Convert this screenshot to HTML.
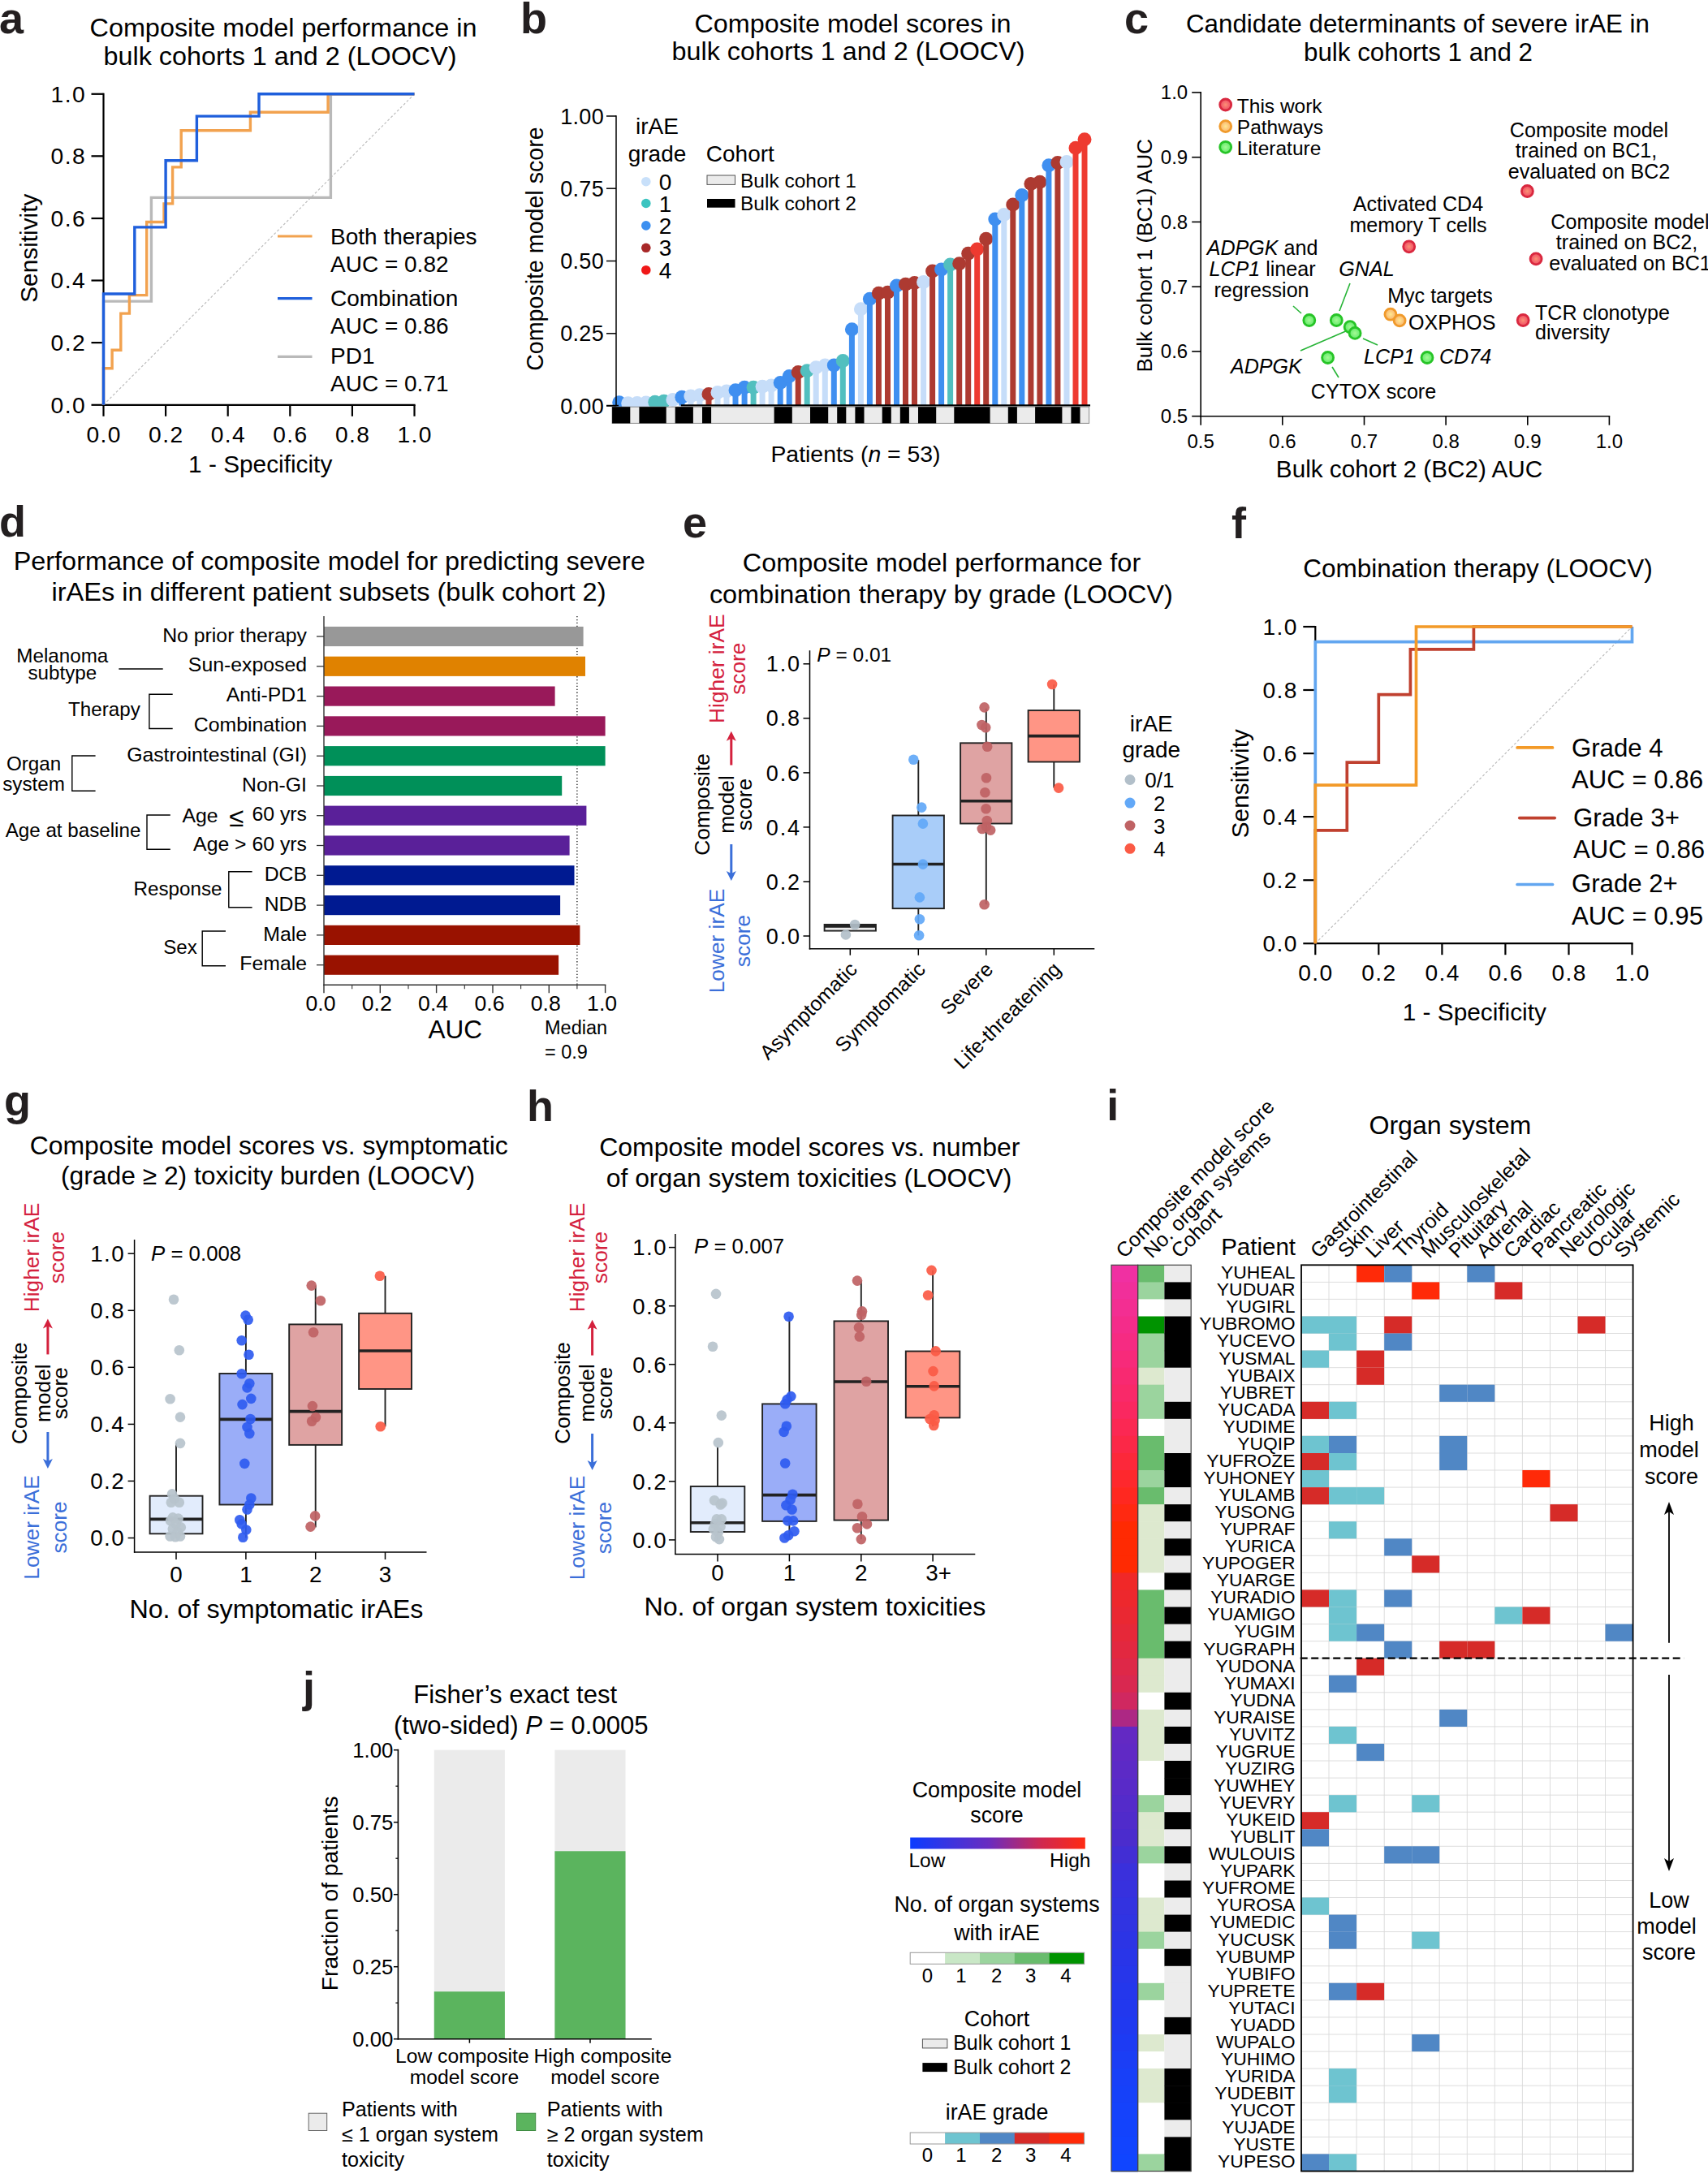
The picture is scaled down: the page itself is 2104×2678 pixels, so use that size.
<!DOCTYPE html>
<html lang="en"><head><meta charset="utf-8"><title>Figure</title>
<style>
html,body{margin:0;padding:0;background:#fff;}
svg{display:block;}
svg text{font-family:"Liberation Sans",sans-serif;}
</style></head><body>
<svg width="2104" height="2678" viewBox="0 0 2104 2678">
<rect x="0" y="0" width="2104" height="2678" fill="#fff"/>
<text x="-1.0" y="41.0" font-size="54" fill="#231f20" font-weight="bold">a</text>
<text x="349.0" y="44.5" font-size="31.5" text-anchor="middle" textLength="477.0" lengthAdjust="spacingAndGlyphs">Composite model performance in</text>
<text x="345.0" y="80.0" font-size="31.5" text-anchor="middle" textLength="435.0" lengthAdjust="spacingAndGlyphs">bulk cohorts 1 and 2 (LOOCV)</text>
<line x1="127.5" y1="498.8" x2="510.5" y2="115.8" stroke="#bdbdbd" stroke-width="1.2" stroke-dasharray="3 2.5"/>
<line x1="127.5" y1="114.7" x2="127.5" y2="499.9" stroke="#000" stroke-width="2.2" />
<line x1="126.4" y1="498.8" x2="511.6" y2="498.8" stroke="#000" stroke-width="2.2" />
<line x1="112.5" y1="498.8" x2="127.5" y2="498.8" stroke="#000" stroke-width="2.2" />
<text x="106.0" y="508.6" font-size="28.2" text-anchor="end" letter-spacing="1.4">0.0</text>
<line x1="127.5" y1="498.8" x2="127.5" y2="512.8" stroke="#000" stroke-width="2.2" />
<text x="128.2" y="544.8" font-size="28.2" text-anchor="middle" letter-spacing="1.4">0.0</text>
<line x1="112.5" y1="422.1" x2="127.5" y2="422.1" stroke="#000" stroke-width="2.2" />
<text x="106.0" y="432.0" font-size="28.2" text-anchor="end" letter-spacing="1.4">0.2</text>
<line x1="204.1" y1="498.8" x2="204.1" y2="512.8" stroke="#000" stroke-width="2.2" />
<text x="204.8" y="544.8" font-size="28.2" text-anchor="middle" letter-spacing="1.4">0.2</text>
<line x1="112.5" y1="345.5" x2="127.5" y2="345.5" stroke="#000" stroke-width="2.2" />
<text x="106.0" y="355.4" font-size="28.2" text-anchor="end" letter-spacing="1.4">0.4</text>
<line x1="280.7" y1="498.8" x2="280.7" y2="512.8" stroke="#000" stroke-width="2.2" />
<text x="281.4" y="544.8" font-size="28.2" text-anchor="middle" letter-spacing="1.4">0.4</text>
<line x1="112.5" y1="269.0" x2="127.5" y2="269.0" stroke="#000" stroke-width="2.2" />
<text x="106.0" y="278.9" font-size="28.2" text-anchor="end" letter-spacing="1.4">0.6</text>
<line x1="357.3" y1="498.8" x2="357.3" y2="512.8" stroke="#000" stroke-width="2.2" />
<text x="358.0" y="544.8" font-size="28.2" text-anchor="middle" letter-spacing="1.4">0.6</text>
<line x1="112.5" y1="192.3" x2="127.5" y2="192.3" stroke="#000" stroke-width="2.2" />
<text x="106.0" y="202.2" font-size="28.2" text-anchor="end" letter-spacing="1.4">0.8</text>
<line x1="433.9" y1="498.8" x2="433.9" y2="512.8" stroke="#000" stroke-width="2.2" />
<text x="434.6" y="544.8" font-size="28.2" text-anchor="middle" letter-spacing="1.4">0.8</text>
<line x1="112.5" y1="115.8" x2="127.5" y2="115.8" stroke="#000" stroke-width="2.2" />
<text x="106.0" y="125.7" font-size="28.2" text-anchor="end" letter-spacing="1.4">1.0</text>
<line x1="510.5" y1="498.8" x2="510.5" y2="512.8" stroke="#000" stroke-width="2.2" />
<text x="511.2" y="544.8" font-size="28.2" text-anchor="middle" letter-spacing="1.4">1.0</text>
<path d="M127.5 498.8 L127.5 371.1 L186.4 371.1 L186.4 243.4 L407.4 243.4 L407.4 115.8 L510.5 115.8" fill="none" stroke="#b9b9b9" stroke-width="3.4" stroke-linejoin="miter"/>
<path d="M127.5 498.8 L127.5 453.7 L138.1 453.7 L138.1 431.2 L148.8 431.2 L148.8 386.1 L159.4 386.1 L159.4 363.6 L180.7 363.6 L180.7 273.5 L202.0 273.5 L202.0 250.9 L212.6 250.9 L212.6 205.9 L223.2 205.9 L223.2 160.8 L308.4 160.8 L308.4 138.3 L404.1 138.3 L404.1 115.8 L510.5 115.8" fill="none" stroke="#f2a24f" stroke-width="3.4" stroke-linejoin="miter"/>
<path d="M127.5 498.8 L127.5 362.0 L165.8 362.0 L165.8 279.9 L204.1 279.9 L204.1 197.8 L242.4 197.8 L242.4 143.1 L319.0 143.1 L319.0 115.8 L510.5 115.8" fill="none" stroke="#1f5fdc" stroke-width="3.4" stroke-linejoin="miter"/>
<text x="320.7" y="582.0" font-size="29.8" text-anchor="middle">1 - Specificity</text>
<text x="46.5" y="305.7" font-size="29.8" text-anchor="middle" transform="rotate(-90 46.5 305.7)">Sensitivity</text>
<line x1="342.0" y1="291.0" x2="384.5" y2="291.0" stroke="#f2a24f" stroke-width="3.2" />
<line x1="342.0" y1="367.6" x2="384.5" y2="367.6" stroke="#1f5fdc" stroke-width="3.2" />
<line x1="342.0" y1="439.3" x2="384.5" y2="439.3" stroke="#b9b9b9" stroke-width="3.2" />
<text x="407.0" y="301.0" font-size="28">Both therapies</text>
<text x="407.0" y="334.5" font-size="28">AUC = 0.82</text>
<text x="407.0" y="376.5" font-size="28">Combination</text>
<text x="407.0" y="411.0" font-size="28">AUC = 0.86</text>
<text x="407.0" y="447.5" font-size="28">PD1</text>
<text x="407.0" y="482.0" font-size="28">AUC = 0.71</text>
<text x="641.0" y="41.0" font-size="54" fill="#231f20" font-weight="bold">b</text>
<text x="1050.4" y="40.0" font-size="31.5" text-anchor="middle" textLength="390.0" lengthAdjust="spacingAndGlyphs">Composite model scores in</text>
<text x="1045.0" y="74.0" font-size="31.5" text-anchor="middle" textLength="435.0" lengthAdjust="spacingAndGlyphs">bulk cohorts 1 and 2 (LOOCV)</text>
<line x1="762.7" y1="499.6" x2="762.7" y2="495.8" stroke="#3f8ff0" stroke-width="7.0" />
<circle cx="762.7" cy="495.8" r="8.5" fill="#3f8ff0" />
<line x1="773.7" y1="499.6" x2="773.7" y2="496.8" stroke="#c6ddf9" stroke-width="7.0" />
<circle cx="773.7" cy="496.8" r="8.5" fill="#c6ddf9" />
<line x1="784.8" y1="499.6" x2="784.8" y2="496.4" stroke="#c6ddf9" stroke-width="7.0" />
<circle cx="784.8" cy="496.4" r="8.5" fill="#c6ddf9" />
<line x1="795.8" y1="499.6" x2="795.8" y2="496.1" stroke="#c6ddf9" stroke-width="7.0" />
<circle cx="795.8" cy="496.1" r="8.5" fill="#c6ddf9" />
<line x1="806.8" y1="499.6" x2="806.8" y2="495.3" stroke="#52bfbf" stroke-width="7.0" />
<circle cx="806.8" cy="495.3" r="8.5" fill="#52bfbf" />
<line x1="817.8" y1="499.6" x2="817.8" y2="494.3" stroke="#52bfbf" stroke-width="7.0" />
<circle cx="817.8" cy="494.3" r="8.5" fill="#52bfbf" />
<line x1="828.9" y1="499.6" x2="828.9" y2="492.5" stroke="#c6ddf9" stroke-width="7.0" />
<circle cx="828.9" cy="492.5" r="8.5" fill="#c6ddf9" />
<line x1="839.9" y1="499.6" x2="839.9" y2="489.3" stroke="#3f8ff0" stroke-width="7.0" />
<circle cx="839.9" cy="489.3" r="8.5" fill="#3f8ff0" />
<line x1="850.9" y1="499.6" x2="850.9" y2="487.9" stroke="#c6ddf9" stroke-width="7.0" />
<circle cx="850.9" cy="487.9" r="8.5" fill="#c6ddf9" />
<line x1="861.9" y1="499.6" x2="861.9" y2="486.8" stroke="#c6ddf9" stroke-width="7.0" />
<circle cx="861.9" cy="486.8" r="8.5" fill="#c6ddf9" />
<line x1="873.0" y1="499.6" x2="873.0" y2="485.5" stroke="#ad3a31" stroke-width="7.0" />
<circle cx="873.0" cy="485.5" r="8.5" fill="#ad3a31" />
<line x1="884.0" y1="499.6" x2="884.0" y2="483.6" stroke="#c6ddf9" stroke-width="7.0" />
<circle cx="884.0" cy="483.6" r="8.5" fill="#c6ddf9" />
<line x1="895.0" y1="499.6" x2="895.0" y2="481.9" stroke="#c6ddf9" stroke-width="7.0" />
<circle cx="895.0" cy="481.9" r="8.5" fill="#c6ddf9" />
<line x1="906.0" y1="499.6" x2="906.0" y2="480.8" stroke="#3f8ff0" stroke-width="7.0" />
<circle cx="906.0" cy="480.8" r="8.5" fill="#3f8ff0" />
<line x1="917.1" y1="499.6" x2="917.1" y2="477.2" stroke="#3f8ff0" stroke-width="7.0" />
<circle cx="917.1" cy="477.2" r="8.5" fill="#3f8ff0" />
<line x1="928.1" y1="499.6" x2="928.1" y2="477.2" stroke="#52bfbf" stroke-width="7.0" />
<circle cx="928.1" cy="477.2" r="8.5" fill="#52bfbf" />
<line x1="939.1" y1="499.6" x2="939.1" y2="476.2" stroke="#c6ddf9" stroke-width="7.0" />
<circle cx="939.1" cy="476.2" r="8.5" fill="#c6ddf9" />
<line x1="950.1" y1="499.6" x2="950.1" y2="475.1" stroke="#c6ddf9" stroke-width="7.0" />
<circle cx="950.1" cy="475.1" r="8.5" fill="#c6ddf9" />
<line x1="961.2" y1="499.6" x2="961.2" y2="471.6" stroke="#3f8ff0" stroke-width="7.0" />
<circle cx="961.2" cy="471.6" r="8.5" fill="#3f8ff0" />
<line x1="972.2" y1="499.6" x2="972.2" y2="463.4" stroke="#3f8ff0" stroke-width="7.0" />
<circle cx="972.2" cy="463.4" r="8.5" fill="#3f8ff0" />
<line x1="983.2" y1="499.6" x2="983.2" y2="458.4" stroke="#ad3a31" stroke-width="7.0" />
<circle cx="983.2" cy="458.4" r="8.5" fill="#ad3a31" />
<line x1="994.2" y1="499.6" x2="994.2" y2="456.7" stroke="#52bfbf" stroke-width="7.0" />
<circle cx="994.2" cy="456.7" r="8.5" fill="#52bfbf" />
<line x1="1005.2" y1="499.6" x2="1005.2" y2="452.8" stroke="#c6ddf9" stroke-width="7.0" />
<circle cx="1005.2" cy="452.8" r="8.5" fill="#c6ddf9" />
<line x1="1016.3" y1="499.6" x2="1016.3" y2="449.9" stroke="#c6ddf9" stroke-width="7.0" />
<circle cx="1016.3" cy="449.9" r="8.5" fill="#c6ddf9" />
<line x1="1027.3" y1="499.6" x2="1027.3" y2="449.9" stroke="#3f8ff0" stroke-width="7.0" />
<circle cx="1027.3" cy="449.9" r="8.5" fill="#3f8ff0" />
<line x1="1038.3" y1="499.6" x2="1038.3" y2="444.6" stroke="#52bfbf" stroke-width="7.0" />
<circle cx="1038.3" cy="444.6" r="8.5" fill="#52bfbf" />
<line x1="1049.4" y1="499.6" x2="1049.4" y2="405.8" stroke="#3f8ff0" stroke-width="7.0" />
<circle cx="1049.4" cy="405.8" r="8.5" fill="#3f8ff0" />
<line x1="1060.4" y1="499.6" x2="1060.4" y2="380.7" stroke="#c6ddf9" stroke-width="7.0" />
<circle cx="1060.4" cy="380.7" r="8.5" fill="#c6ddf9" />
<line x1="1071.4" y1="499.6" x2="1071.4" y2="368.3" stroke="#3f8ff0" stroke-width="7.0" />
<circle cx="1071.4" cy="368.3" r="8.5" fill="#3f8ff0" />
<line x1="1082.4" y1="499.6" x2="1082.4" y2="361.2" stroke="#ad3a31" stroke-width="7.0" />
<circle cx="1082.4" cy="361.2" r="8.5" fill="#ad3a31" />
<line x1="1093.5" y1="499.6" x2="1093.5" y2="360.3" stroke="#ad3a31" stroke-width="7.0" />
<circle cx="1093.5" cy="360.3" r="8.5" fill="#ad3a31" />
<line x1="1104.5" y1="499.6" x2="1104.5" y2="352.1" stroke="#3f8ff0" stroke-width="7.0" />
<circle cx="1104.5" cy="352.1" r="8.5" fill="#3f8ff0" />
<line x1="1115.5" y1="499.6" x2="1115.5" y2="350.2" stroke="#ad3a31" stroke-width="7.0" />
<circle cx="1115.5" cy="350.2" r="8.5" fill="#ad3a31" />
<line x1="1126.5" y1="499.6" x2="1126.5" y2="348.5" stroke="#ad3a31" stroke-width="7.0" />
<circle cx="1126.5" cy="348.5" r="8.5" fill="#ad3a31" />
<line x1="1137.6" y1="499.6" x2="1137.6" y2="347.5" stroke="#c6ddf9" stroke-width="7.0" />
<circle cx="1137.6" cy="347.5" r="8.5" fill="#c6ddf9" />
<line x1="1148.6" y1="499.6" x2="1148.6" y2="333.9" stroke="#ad3a31" stroke-width="7.0" />
<circle cx="1148.6" cy="333.9" r="8.5" fill="#ad3a31" />
<line x1="1159.6" y1="499.6" x2="1159.6" y2="332.1" stroke="#3f8ff0" stroke-width="7.0" />
<circle cx="1159.6" cy="332.1" r="8.5" fill="#3f8ff0" />
<line x1="1170.6" y1="499.6" x2="1170.6" y2="326.1" stroke="#52bfbf" stroke-width="7.0" />
<circle cx="1170.6" cy="326.1" r="8.5" fill="#52bfbf" />
<line x1="1181.7" y1="499.6" x2="1181.7" y2="324.7" stroke="#ad3a31" stroke-width="7.0" />
<circle cx="1181.7" cy="324.7" r="8.5" fill="#ad3a31" />
<line x1="1192.7" y1="499.6" x2="1192.7" y2="312.3" stroke="#ad3a31" stroke-width="7.0" />
<circle cx="1192.7" cy="312.3" r="8.5" fill="#ad3a31" />
<line x1="1203.7" y1="499.6" x2="1203.7" y2="306.9" stroke="#ee3a30" stroke-width="7.0" />
<circle cx="1203.7" cy="306.9" r="8.5" fill="#ee3a30" />
<line x1="1214.7" y1="499.6" x2="1214.7" y2="294.2" stroke="#ad3a31" stroke-width="7.0" />
<circle cx="1214.7" cy="294.2" r="8.5" fill="#ad3a31" />
<line x1="1225.8" y1="499.6" x2="1225.8" y2="270.0" stroke="#3f8ff0" stroke-width="7.0" />
<circle cx="1225.8" cy="270.0" r="8.5" fill="#3f8ff0" />
<line x1="1236.8" y1="499.6" x2="1236.8" y2="264.4" stroke="#c6ddf9" stroke-width="7.0" />
<circle cx="1236.8" cy="264.4" r="8.5" fill="#c6ddf9" />
<line x1="1247.8" y1="499.6" x2="1247.8" y2="252.1" stroke="#ad3a31" stroke-width="7.0" />
<circle cx="1247.8" cy="252.1" r="8.5" fill="#ad3a31" />
<line x1="1258.8" y1="499.6" x2="1258.8" y2="240.6" stroke="#3f8ff0" stroke-width="7.0" />
<circle cx="1258.8" cy="240.6" r="8.5" fill="#3f8ff0" />
<line x1="1269.9" y1="499.6" x2="1269.9" y2="226.5" stroke="#ad3a31" stroke-width="7.0" />
<circle cx="1269.9" cy="226.5" r="8.5" fill="#ad3a31" />
<line x1="1280.9" y1="499.6" x2="1280.9" y2="224.3" stroke="#ad3a31" stroke-width="7.0" />
<circle cx="1280.9" cy="224.3" r="8.5" fill="#ad3a31" />
<line x1="1291.9" y1="499.6" x2="1291.9" y2="203.7" stroke="#3f8ff0" stroke-width="7.0" />
<circle cx="1291.9" cy="203.7" r="8.5" fill="#3f8ff0" />
<line x1="1302.9" y1="499.6" x2="1302.9" y2="200.5" stroke="#ad3a31" stroke-width="7.0" />
<circle cx="1302.9" cy="200.5" r="8.5" fill="#ad3a31" />
<line x1="1314.0" y1="499.6" x2="1314.0" y2="199.6" stroke="#c6ddf9" stroke-width="7.0" />
<circle cx="1314.0" cy="199.6" r="8.5" fill="#c6ddf9" />
<line x1="1325.0" y1="499.6" x2="1325.0" y2="182.2" stroke="#ee3a30" stroke-width="7.0" />
<circle cx="1325.0" cy="182.2" r="8.5" fill="#ee3a30" />
<line x1="1336.0" y1="499.6" x2="1336.0" y2="171.8" stroke="#ee3a30" stroke-width="7.0" />
<circle cx="1336.0" cy="171.8" r="8.5" fill="#ee3a30" />
<line x1="759.0" y1="142.3" x2="759.0" y2="500.6" stroke="#000" stroke-width="1.5" />
<line x1="747.0" y1="500.0" x2="759.0" y2="500.0" stroke="#000" stroke-width="1.5" />
<text x="744.0" y="509.7" font-size="27.0" text-anchor="end" letter-spacing="0.3">0.00</text>
<line x1="747.0" y1="410.8" x2="759.0" y2="410.8" stroke="#000" stroke-width="1.5" />
<text x="744.0" y="420.4" font-size="27.0" text-anchor="end" letter-spacing="0.3">0.25</text>
<line x1="747.0" y1="321.5" x2="759.0" y2="321.5" stroke="#000" stroke-width="1.5" />
<text x="744.0" y="331.2" font-size="27.0" text-anchor="end" letter-spacing="0.3">0.50</text>
<line x1="747.0" y1="232.2" x2="759.0" y2="232.2" stroke="#000" stroke-width="1.5" />
<text x="744.0" y="241.9" font-size="27.0" text-anchor="end" letter-spacing="0.3">0.75</text>
<line x1="747.0" y1="143.0" x2="759.0" y2="143.0" stroke="#000" stroke-width="1.5" />
<text x="744.0" y="152.7" font-size="27.0" text-anchor="end" letter-spacing="0.3">1.00</text>
<line x1="838.8" y1="499.4" x2="1343.0" y2="499.4" stroke="#000" stroke-width="2.4" />
<line x1="747.0" y1="499.6" x2="762.0" y2="499.6" stroke="#000" stroke-width="1.7" />
<rect x="754.1" y="501.2" width="587.5" height="20.2" fill="#ebebeb" stroke="#8a8a8a" stroke-width="1" />
<rect x="754.1" y="501.2" width="22.2" height="20.2" fill="#000" />
<rect x="787.4" y="501.2" width="33.3" height="20.2" fill="#000" />
<rect x="831.7" y="501.2" width="22.2" height="20.2" fill="#000" />
<rect x="865.0" y="501.2" width="11.1" height="20.2" fill="#000" />
<rect x="953.6" y="501.2" width="22.2" height="20.2" fill="#000" />
<rect x="998.0" y="501.2" width="22.2" height="20.2" fill="#000" />
<rect x="1031.2" y="501.2" width="11.1" height="20.2" fill="#000" />
<rect x="1053.4" y="501.2" width="11.1" height="20.2" fill="#000" />
<rect x="1086.7" y="501.2" width="11.1" height="20.2" fill="#000" />
<rect x="1108.8" y="501.2" width="11.1" height="20.2" fill="#000" />
<rect x="1131.0" y="501.2" width="22.2" height="20.2" fill="#000" />
<rect x="1175.3" y="501.2" width="44.3" height="20.2" fill="#000" />
<rect x="1241.8" y="501.2" width="11.1" height="20.2" fill="#000" />
<rect x="1275.1" y="501.2" width="33.3" height="20.2" fill="#000" />
<rect x="1319.4" y="501.2" width="11.1" height="20.2" fill="#000" />
<text x="1054.0" y="568.5" font-size="28.4" text-anchor="middle">Patients (<tspan font-style="italic">n</tspan> = 53)</text>
<text x="669.0" y="306.6" font-size="28.6" text-anchor="middle" transform="rotate(-90 669.0 306.6)">Composite model score</text>
<text x="809.5" y="165.0" font-size="28" text-anchor="middle">irAE</text>
<text x="809.5" y="198.6" font-size="28" text-anchor="middle">grade</text>
<circle cx="795.8" cy="223.7" r="5.8" fill="#c8e0fa" />
<text x="811.8" y="233.7" font-size="28">0</text>
<circle cx="795.8" cy="250.5" r="5.8" fill="#3cc4c0" />
<text x="811.8" y="260.5" font-size="28">1</text>
<circle cx="795.8" cy="277.9" r="5.8" fill="#3c90f0" />
<text x="811.8" y="287.9" font-size="28">2</text>
<circle cx="795.8" cy="305.3" r="5.8" fill="#a82828" />
<text x="811.8" y="315.3" font-size="28">3</text>
<circle cx="795.8" cy="332.7" r="5.8" fill="#f01818" />
<text x="811.8" y="342.7" font-size="28">4</text>
<text x="869.8" y="198.6" font-size="28">Cohort</text>
<rect x="871.0" y="216.0" width="34.5" height="11.4" fill="#ebebeb" stroke="#555" stroke-width="1" />
<text x="912.0" y="230.6" font-size="24.5">Bulk cohort 1</text>
<rect x="871.0" y="245.0" width="34.5" height="10.7" fill="#000" />
<text x="912.0" y="258.6" font-size="24.5">Bulk cohort 2</text>
<text x="1385.0" y="41.0" font-size="54" fill="#231f20" font-weight="bold">c</text>
<text x="1746.5" y="39.5" font-size="31.5" text-anchor="middle" textLength="571.0" lengthAdjust="spacingAndGlyphs">Candidate determinants of severe irAE in</text>
<text x="1747.0" y="75.0" font-size="31.5" text-anchor="middle" textLength="282.0" lengthAdjust="spacingAndGlyphs">bulk cohorts 1 and 2</text>
<line x1="1479.2" y1="113.1" x2="1479.2" y2="513.5" stroke="#000" stroke-width="1.6" />
<line x1="1478.4" y1="512.7" x2="1983.2" y2="512.7" stroke="#000" stroke-width="1.6" />
<line x1="1468.2" y1="512.7" x2="1479.2" y2="512.7" stroke="#000" stroke-width="1.6" />
<text x="1463.2" y="521.2" font-size="24" text-anchor="end">0.5</text>
<line x1="1479.2" y1="512.7" x2="1479.2" y2="523.7" stroke="#000" stroke-width="1.6" />
<text x="1479.2" y="551.7" font-size="24" text-anchor="middle">0.5</text>
<line x1="1468.2" y1="432.9" x2="1479.2" y2="432.9" stroke="#000" stroke-width="1.6" />
<text x="1463.2" y="441.4" font-size="24" text-anchor="end">0.6</text>
<line x1="1579.8" y1="512.7" x2="1579.8" y2="523.7" stroke="#000" stroke-width="1.6" />
<text x="1579.8" y="551.7" font-size="24" text-anchor="middle">0.6</text>
<line x1="1468.2" y1="353.2" x2="1479.2" y2="353.2" stroke="#000" stroke-width="1.6" />
<text x="1463.2" y="361.7" font-size="24" text-anchor="end">0.7</text>
<line x1="1680.5" y1="512.7" x2="1680.5" y2="523.7" stroke="#000" stroke-width="1.6" />
<text x="1680.5" y="551.7" font-size="24" text-anchor="middle">0.7</text>
<line x1="1468.2" y1="273.4" x2="1479.2" y2="273.4" stroke="#000" stroke-width="1.6" />
<text x="1463.2" y="281.9" font-size="24" text-anchor="end">0.8</text>
<line x1="1781.1" y1="512.7" x2="1781.1" y2="523.7" stroke="#000" stroke-width="1.6" />
<text x="1781.1" y="551.7" font-size="24" text-anchor="middle">0.8</text>
<line x1="1468.2" y1="193.7" x2="1479.2" y2="193.7" stroke="#000" stroke-width="1.6" />
<text x="1463.2" y="202.2" font-size="24" text-anchor="end">0.9</text>
<line x1="1881.8" y1="512.7" x2="1881.8" y2="523.7" stroke="#000" stroke-width="1.6" />
<text x="1881.8" y="551.7" font-size="24" text-anchor="middle">0.9</text>
<line x1="1468.2" y1="113.9" x2="1479.2" y2="113.9" stroke="#000" stroke-width="1.6" />
<text x="1463.2" y="122.4" font-size="24" text-anchor="end">1.0</text>
<line x1="1982.4" y1="512.7" x2="1982.4" y2="523.7" stroke="#000" stroke-width="1.6" />
<text x="1982.4" y="551.7" font-size="24" text-anchor="middle">1.0</text>
<text x="1736.0" y="588.0" font-size="29.7" text-anchor="middle">Bulk cohort 2 (BC2) AUC</text>
<text x="1419.0" y="314.8" font-size="26" text-anchor="middle" transform="rotate(-90 1419.0 314.8)">Bulk cohort 1 (BC1) AUC</text>
<defs><radialGradient id="gr"><stop offset="0" stop-color="#fb9274"/><stop offset="0.6" stop-color="#f4656c"/><stop offset="1" stop-color="#ef5763"/></radialGradient><radialGradient id="go"><stop offset="0" stop-color="#ffe98f"/><stop offset="0.6" stop-color="#fcc67c"/><stop offset="1" stop-color="#f9b86c"/></radialGradient><radialGradient id="gg"><stop offset="0" stop-color="#a4fa94"/><stop offset="0.6" stop-color="#7af07a"/><stop offset="1" stop-color="#62e868"/></radialGradient></defs>
<line x1="1593.0" y1="377.0" x2="1603.0" y2="386.0" stroke="#27b437" stroke-width="1.6" />
<line x1="1663.0" y1="349.0" x2="1650.0" y2="383.0" stroke="#27b437" stroke-width="1.6" />
<line x1="1602.0" y1="432.0" x2="1660.0" y2="407.0" stroke="#27b437" stroke-width="1.6" />
<line x1="1679.0" y1="417.0" x2="1697.0" y2="425.0" stroke="#27b437" stroke-width="1.6" />
<line x1="1641.0" y1="452.0" x2="1649.0" y2="465.0" stroke="#27b437" stroke-width="1.6" />
<circle cx="1881.4" cy="235.5" r="7.0" fill="url(#gr)" stroke="#d9283f" stroke-width="2.8" />
<circle cx="1892.1" cy="318.9" r="7.0" fill="url(#gr)" stroke="#d9283f" stroke-width="2.8" />
<circle cx="1735.7" cy="303.8" r="7.0" fill="url(#gr)" stroke="#d9283f" stroke-width="2.8" />
<circle cx="1876.2" cy="394.5" r="7.0" fill="url(#gr)" stroke="#d9283f" stroke-width="2.8" />
<circle cx="1712.9" cy="387.2" r="7.0" fill="url(#go)" stroke="#f09a2b" stroke-width="2.8" />
<circle cx="1724.1" cy="394.9" r="7.0" fill="url(#go)" stroke="#f09a2b" stroke-width="2.8" />
<circle cx="1612.8" cy="394.5" r="7.0" fill="url(#gg)" stroke="#27c427" stroke-width="2.8" />
<circle cx="1646.3" cy="394.5" r="7.0" fill="url(#gg)" stroke="#27c427" stroke-width="2.8" />
<circle cx="1663.1" cy="402.7" r="7.0" fill="url(#gg)" stroke="#27c427" stroke-width="2.8" />
<circle cx="1669.1" cy="410.4" r="7.0" fill="url(#gg)" stroke="#27c427" stroke-width="2.8" />
<circle cx="1635.6" cy="440.5" r="7.0" fill="url(#gg)" stroke="#27c427" stroke-width="2.8" />
<circle cx="1758.0" cy="440.5" r="7.0" fill="url(#gg)" stroke="#27c427" stroke-width="2.8" />
<circle cx="1509.7" cy="129.0" r="7.0" fill="url(#gr)" stroke="#d9283f" stroke-width="2.8" />
<text x="1523.8" y="138.5" font-size="24.5">This work</text>
<circle cx="1509.7" cy="155.6" r="7.0" fill="url(#go)" stroke="#f09a2b" stroke-width="2.8" />
<text x="1523.8" y="165.1" font-size="24.5">Pathways</text>
<circle cx="1509.7" cy="181.3" r="7.0" fill="url(#gg)" stroke="#27c427" stroke-width="2.8" />
<text x="1523.8" y="190.8" font-size="24.5">Literature</text>
<text x="1957.5" y="168.5" font-size="25.1" text-anchor="middle">Composite model</text>
<text x="1954.0" y="194.0" font-size="25.1" text-anchor="middle">trained on BC1,</text>
<text x="1957.5" y="219.5" font-size="25.1" text-anchor="middle">evaluated on BC2</text>
<text x="2008.0" y="281.5" font-size="25.1" text-anchor="middle">Composite model</text>
<text x="2004.0" y="307.0" font-size="25.1" text-anchor="middle">trained on BC2,</text>
<text x="2008.0" y="332.5" font-size="25.1" text-anchor="middle">evaluated on BC1</text>
<text x="1747.0" y="260.0" font-size="25.1" text-anchor="middle">Activated CD4</text>
<text x="1747.0" y="286.0" font-size="25.1" text-anchor="middle">memory T cells</text>
<text x="1555.0" y="314.0" font-size="25.1" text-anchor="middle"><tspan font-style="italic">ADPGK</tspan> and</text>
<text x="1555.0" y="340.0" font-size="25.1" text-anchor="middle"><tspan font-style="italic">LCP1</tspan> linear</text>
<text x="1554.0" y="366.0" font-size="25.1" text-anchor="middle">regression</text>
<text x="1683.5" y="340.0" font-size="25.1" text-anchor="middle" font-style="italic">GNAL</text>
<text x="1774.0" y="373.0" font-size="25.1" text-anchor="middle">Myc targets</text>
<text x="1735.0" y="406.0" font-size="25.1">OXPHOS</text>
<text x="1891.0" y="394.0" font-size="25.1">TCR clonotype</text>
<text x="1891.0" y="418.0" font-size="25.1">diversity</text>
<text x="1516.0" y="460.0" font-size="25.1" font-style="italic">ADPGK</text>
<text x="1680.0" y="448.0" font-size="25.1" font-style="italic">LCP1</text>
<text x="1773.0" y="448.0" font-size="25.1" font-style="italic">CD74</text>
<text x="1692.0" y="491.0" font-size="25.1" text-anchor="middle">CYTOX score</text>
<text x="-1.0" y="661.0" font-size="54" fill="#231f20" font-weight="bold">d</text>
<text x="405.7" y="701.6" font-size="31.5" text-anchor="middle" textLength="778.0" lengthAdjust="spacingAndGlyphs">Performance of composite model for predicting severe</text>
<text x="405.0" y="740.0" font-size="31.5" text-anchor="middle" textLength="683.0" lengthAdjust="spacingAndGlyphs">irAEs in different patient subsets (bulk cohort 2)</text>
<line x1="710.9" y1="759.0" x2="710.9" y2="1213.2" stroke="#111" stroke-width="1.3" stroke-dasharray="1.3 2.6"/>
<rect x="399.0" y="771.9" width="319.6" height="24.2" fill="#989898" />
<line x1="390.0" y1="784.0" x2="399.0" y2="784.0" stroke="#333" stroke-width="1.3" />
<text x="378.0" y="790.6" font-size="24.8" text-anchor="end">No prior therapy</text>
<rect x="399.0" y="808.7" width="322.0" height="24.2" fill="#e08200" />
<line x1="390.0" y1="820.8" x2="399.0" y2="820.8" stroke="#333" stroke-width="1.3" />
<text x="378.0" y="827.4" font-size="24.8" text-anchor="end">Sun-exposed</text>
<rect x="399.0" y="845.5" width="284.6" height="24.2" fill="#99195a" />
<line x1="390.0" y1="857.6" x2="399.0" y2="857.6" stroke="#333" stroke-width="1.3" />
<text x="378.0" y="864.2" font-size="24.8" text-anchor="end">Anti-PD1</text>
<rect x="399.0" y="882.3" width="346.6" height="24.2" fill="#99195a" />
<line x1="390.0" y1="894.4" x2="399.0" y2="894.4" stroke="#333" stroke-width="1.3" />
<text x="378.0" y="901.0" font-size="24.8" text-anchor="end">Combination</text>
<rect x="399.0" y="919.1" width="346.6" height="24.2" fill="#009059" />
<line x1="390.0" y1="931.2" x2="399.0" y2="931.2" stroke="#333" stroke-width="1.3" />
<text x="378.0" y="937.8" font-size="24.8" text-anchor="end">Gastrointestinal (GI)</text>
<rect x="399.0" y="955.9" width="293.2" height="24.2" fill="#009059" />
<line x1="390.0" y1="968.0" x2="399.0" y2="968.0" stroke="#333" stroke-width="1.3" />
<text x="378.0" y="974.6" font-size="24.8" text-anchor="end">Non-GI</text>
<rect x="399.0" y="992.6" width="323.4" height="24.2" fill="#5a2099" />
<line x1="390.0" y1="1004.7" x2="399.0" y2="1004.7" stroke="#333" stroke-width="1.3" />
<text x="268.5" y="1012.5" font-size="24.8" text-anchor="end">Age</text>
<text x="291.3" y="1018.4" font-size="33" text-anchor="middle">≤</text>
<text x="378.0" y="1010.9" font-size="24.8" text-anchor="end">60 yrs</text>
<rect x="399.0" y="1029.4" width="302.6" height="24.2" fill="#5a2099" />
<line x1="390.0" y1="1041.5" x2="399.0" y2="1041.5" stroke="#333" stroke-width="1.3" />
<text x="378.0" y="1048.1" font-size="24.8" text-anchor="end">Age &gt; 60 yrs</text>
<rect x="399.0" y="1066.2" width="308.5" height="24.2" fill="#001a91" />
<line x1="390.0" y1="1078.3" x2="399.0" y2="1078.3" stroke="#333" stroke-width="1.3" />
<text x="378.0" y="1084.9" font-size="24.8" text-anchor="end">DCB</text>
<rect x="399.0" y="1103.0" width="291.1" height="24.2" fill="#001a91" />
<line x1="390.0" y1="1115.1" x2="399.0" y2="1115.1" stroke="#333" stroke-width="1.3" />
<text x="378.0" y="1121.7" font-size="24.8" text-anchor="end">NDB</text>
<rect x="399.0" y="1139.8" width="315.4" height="24.2" fill="#991200" />
<line x1="390.0" y1="1151.9" x2="399.0" y2="1151.9" stroke="#333" stroke-width="1.3" />
<text x="378.0" y="1158.5" font-size="24.8" text-anchor="end">Male</text>
<rect x="399.0" y="1176.6" width="289.1" height="24.2" fill="#991200" />
<line x1="390.0" y1="1188.7" x2="399.0" y2="1188.7" stroke="#333" stroke-width="1.3" />
<text x="378.0" y="1195.3" font-size="24.8" text-anchor="end">Female</text>
<line x1="399.0" y1="759.0" x2="399.0" y2="1213.9" stroke="#333" stroke-width="1.4" />
<line x1="398.3" y1="1213.2" x2="746.3" y2="1213.2" stroke="#333" stroke-width="1.4" />
<line x1="399.0" y1="1213.2" x2="399.0" y2="1223.2" stroke="#333" stroke-width="1.4" />
<text x="395.0" y="1245.4" font-size="26.6" text-anchor="middle">0.0</text>
<line x1="433.7" y1="1213.2" x2="433.7" y2="1218.2" stroke="#333" stroke-width="1.1" />
<line x1="468.3" y1="1213.2" x2="468.3" y2="1223.2" stroke="#333" stroke-width="1.4" />
<text x="464.3" y="1245.4" font-size="26.6" text-anchor="middle">0.2</text>
<line x1="503.0" y1="1213.2" x2="503.0" y2="1218.2" stroke="#333" stroke-width="1.1" />
<line x1="537.6" y1="1213.2" x2="537.6" y2="1223.2" stroke="#333" stroke-width="1.4" />
<text x="533.6" y="1245.4" font-size="26.6" text-anchor="middle">0.4</text>
<line x1="572.3" y1="1213.2" x2="572.3" y2="1218.2" stroke="#333" stroke-width="1.1" />
<line x1="607.0" y1="1213.2" x2="607.0" y2="1223.2" stroke="#333" stroke-width="1.4" />
<text x="603.0" y="1245.4" font-size="26.6" text-anchor="middle">0.6</text>
<line x1="641.6" y1="1213.2" x2="641.6" y2="1218.2" stroke="#333" stroke-width="1.1" />
<line x1="676.3" y1="1213.2" x2="676.3" y2="1223.2" stroke="#333" stroke-width="1.4" />
<text x="672.3" y="1245.4" font-size="26.6" text-anchor="middle">0.8</text>
<line x1="710.9" y1="1213.2" x2="710.9" y2="1218.2" stroke="#333" stroke-width="1.1" />
<line x1="745.6" y1="1213.2" x2="745.6" y2="1223.2" stroke="#333" stroke-width="1.4" />
<text x="741.6" y="1245.4" font-size="26.6" text-anchor="middle">1.0</text>
<text x="560.7" y="1278.7" font-size="31.5" text-anchor="middle">AUC</text>
<text x="671.0" y="1274.0" font-size="23.5">Median</text>
<text x="671.0" y="1304.0" font-size="23.5">= 0.9</text>
<text x="76.8" y="815.9" font-size="24.2" text-anchor="middle">Melanoma</text>
<text x="76.8" y="837.0" font-size="24.2" text-anchor="middle">subtype</text>
<line x1="146.4" y1="824.0" x2="200.7" y2="824.0" stroke="#000" stroke-width="1.4" />
<text x="128.4" y="881.6" font-size="24.2" text-anchor="middle">Therapy</text>
<path d="M212.7 855.2 L183.9 855.2 L183.9 897.5 L212.7 897.5" fill="none" stroke="#000" stroke-width="1.4" />
<text x="41.5" y="948.9" font-size="24.2" text-anchor="middle">Organ</text>
<text x="41.5" y="974.3" font-size="24.2" text-anchor="middle">system</text>
<path d="M117.6 931.0 L88.8 931.0 L88.8 974.3 L117.6 974.3" fill="none" stroke="#000" stroke-width="1.4" />
<text x="90.0" y="1030.5" font-size="24.2" text-anchor="middle">Age at baseline</text>
<path d="M209.8 1004.0 L181.0 1004.0 L181.0 1046.3 L209.8 1046.3" fill="none" stroke="#000" stroke-width="1.4" />
<text x="219.0" y="1102.5" font-size="24.2" text-anchor="middle">Response</text>
<path d="M310.6 1073.7 L281.8 1073.7 L281.8 1117.8 L310.6 1117.8" fill="none" stroke="#000" stroke-width="1.4" />
<text x="222.0" y="1175.4" font-size="24.2" text-anchor="middle">Sex</text>
<path d="M278.0 1147.0 L249.2 1147.0 L249.2 1189.8 L278.0 1189.8" fill="none" stroke="#000" stroke-width="1.4" />
<text x="841.0" y="662.0" font-size="54" fill="#231f20" font-weight="bold">e</text>
<text x="1160.0" y="703.7" font-size="31.5" text-anchor="middle" textLength="490.4" lengthAdjust="spacingAndGlyphs">Composite model performance for</text>
<text x="1159.4" y="742.7" font-size="31.5" text-anchor="middle" textLength="571.0" lengthAdjust="spacingAndGlyphs">combination therapy by grade (LOOCV)</text>
<line x1="997.5" y1="801.2" x2="997.5" y2="1169.4" stroke="#000" stroke-width="1.5" />
<line x1="996.8" y1="1168.7" x2="1348.3" y2="1168.7" stroke="#000" stroke-width="1.5" />
<line x1="989.5" y1="1153.0" x2="997.5" y2="1153.0" stroke="#000" stroke-width="1.5" />
<text x="987.0" y="1162.6" font-size="27" text-anchor="end" letter-spacing="1.9">0.0</text>
<line x1="989.5" y1="1086.0" x2="997.5" y2="1086.0" stroke="#000" stroke-width="1.5" />
<text x="987.0" y="1095.6" font-size="27" text-anchor="end" letter-spacing="1.9">0.2</text>
<line x1="989.5" y1="1018.9" x2="997.5" y2="1018.9" stroke="#000" stroke-width="1.5" />
<text x="987.0" y="1028.5" font-size="27" text-anchor="end" letter-spacing="1.9">0.4</text>
<line x1="989.5" y1="951.9" x2="997.5" y2="951.9" stroke="#000" stroke-width="1.5" />
<text x="987.0" y="961.5" font-size="27" text-anchor="end" letter-spacing="1.9">0.6</text>
<line x1="989.5" y1="884.8" x2="997.5" y2="884.8" stroke="#000" stroke-width="1.5" />
<text x="987.0" y="894.4" font-size="27" text-anchor="end" letter-spacing="1.9">0.8</text>
<line x1="989.5" y1="817.8" x2="997.5" y2="817.8" stroke="#000" stroke-width="1.5" />
<text x="987.0" y="827.4" font-size="27" text-anchor="end" letter-spacing="1.9">1.0</text>
<line x1="1047.3" y1="1138.9" x2="1047.3" y2="1138.9" stroke="#222" stroke-width="1.9" />
<line x1="1047.3" y1="1146.6" x2="1047.3" y2="1146.6" stroke="#222" stroke-width="1.9" />
<rect x="1015.6" y="1138.9" width="63.3" height="7.7" fill="#ececec" stroke="#222" stroke-width="1.9" />
<line x1="1015.6" y1="1140.9" x2="1079.0" y2="1140.9" stroke="#222" stroke-width="3.6" />
<circle cx="1041.9" cy="1151.4" r="6.3" fill="#b2bfc9" fill-opacity="0.92"/>
<circle cx="1053.1" cy="1139.0" r="6.3" fill="#b2bfc9" fill-opacity="0.92"/>
<line x1="1131.3" y1="936.1" x2="1131.3" y2="1004.5" stroke="#222" stroke-width="1.9" />
<line x1="1131.3" y1="1119.1" x2="1131.3" y2="1152.3" stroke="#222" stroke-width="1.9" />
<rect x="1099.6" y="1004.5" width="63.3" height="114.6" fill="#a9cdf9" stroke="#222" stroke-width="1.9" />
<line x1="1099.6" y1="1064.5" x2="1163.0" y2="1064.5" stroke="#222" stroke-width="3.6" />
<circle cx="1125.3" cy="935.8" r="6.3" fill="#62a8f7" fill-opacity="0.92"/>
<circle cx="1135.3" cy="994.6" r="6.3" fill="#62a8f7" fill-opacity="0.92"/>
<circle cx="1136.9" cy="1014.6" r="6.3" fill="#62a8f7" fill-opacity="0.92"/>
<circle cx="1136.9" cy="1064.6" r="6.3" fill="#62a8f7" fill-opacity="0.92"/>
<circle cx="1132.9" cy="1105.4" r="6.3" fill="#62a8f7" fill-opacity="0.92"/>
<circle cx="1132.9" cy="1132.2" r="6.3" fill="#62a8f7" fill-opacity="0.92"/>
<circle cx="1132.1" cy="1152.2" r="6.3" fill="#62a8f7" fill-opacity="0.92"/>
<line x1="1214.8" y1="872.8" x2="1214.8" y2="915.3" stroke="#222" stroke-width="1.9" />
<line x1="1214.8" y1="1014.6" x2="1214.8" y2="1114.1" stroke="#222" stroke-width="1.9" />
<rect x="1183.1" y="915.3" width="63.3" height="99.2" fill="#dfa3a3" stroke="#222" stroke-width="1.9" />
<line x1="1183.1" y1="986.7" x2="1246.5" y2="986.7" stroke="#222" stroke-width="3.6" />
<circle cx="1212.6" cy="871.4" r="6.3" fill="#bf6264" fill-opacity="0.92"/>
<circle cx="1209.4" cy="893.0" r="6.3" fill="#bf6264" fill-opacity="0.92"/>
<circle cx="1214.2" cy="896.2" r="6.3" fill="#bf6264" fill-opacity="0.92"/>
<circle cx="1216.2" cy="919.8" r="6.3" fill="#bf6264" fill-opacity="0.92"/>
<circle cx="1215.0" cy="958.2" r="6.3" fill="#bf6264" fill-opacity="0.92"/>
<circle cx="1213.4" cy="976.2" r="6.3" fill="#bf6264" fill-opacity="0.92"/>
<circle cx="1214.6" cy="996.2" r="6.3" fill="#bf6264" fill-opacity="0.92"/>
<circle cx="1215.8" cy="1011.0" r="6.3" fill="#bf6264" fill-opacity="0.92"/>
<circle cx="1209.8" cy="1021.0" r="6.3" fill="#bf6264" fill-opacity="0.92"/>
<circle cx="1220.2" cy="1022.6" r="6.3" fill="#bf6264" fill-opacity="0.92"/>
<circle cx="1215.0" cy="1018.2" r="6.3" fill="#bf6264" fill-opacity="0.92"/>
<circle cx="1212.6" cy="1114.2" r="6.3" fill="#bf6264" fill-opacity="0.92"/>
<line x1="1298.3" y1="843.3" x2="1298.3" y2="875.1" stroke="#222" stroke-width="1.9" />
<line x1="1298.3" y1="938.5" x2="1298.3" y2="970.3" stroke="#222" stroke-width="1.9" />
<rect x="1266.6" y="875.1" width="63.3" height="63.4" fill="#ff9585" stroke="#222" stroke-width="1.9" />
<line x1="1266.6" y1="906.6" x2="1330.0" y2="906.6" stroke="#222" stroke-width="3.6" />
<circle cx="1296.1" cy="843.0" r="6.3" fill="#fb5a45" fill-opacity="0.92"/>
<circle cx="1304.1" cy="970.6" r="6.3" fill="#fb5a45" fill-opacity="0.92"/>
<line x1="1047.3" y1="1168.7" x2="1047.3" y2="1176.7" stroke="#000" stroke-width="1.5" />
<text x="1057.3" y="1195.7" font-size="25" text-anchor="end" transform="rotate(-45 1057.3 1195.7)">Asymptomatic</text>
<line x1="1131.3" y1="1168.7" x2="1131.3" y2="1176.7" stroke="#000" stroke-width="1.5" />
<text x="1141.3" y="1195.7" font-size="25" text-anchor="end" transform="rotate(-45 1141.3 1195.7)">Symptomatic</text>
<line x1="1214.8" y1="1168.7" x2="1214.8" y2="1176.7" stroke="#000" stroke-width="1.5" />
<text x="1224.8" y="1195.7" font-size="25" text-anchor="end" transform="rotate(-45 1224.8 1195.7)">Severe</text>
<line x1="1298.3" y1="1168.7" x2="1298.3" y2="1176.7" stroke="#000" stroke-width="1.5" />
<text x="1308.3" y="1195.7" font-size="25" text-anchor="end" transform="rotate(-45 1308.3 1195.7)">Life-threatening</text>
<text x="1006.3" y="815.2" font-size="24.5"><tspan font-style="italic">P</tspan> = 0.01</text>
<text x="892.2" y="823.7" font-size="26.3" text-anchor="middle" fill="#d4213d" transform="rotate(-90 892.2 823.7)">Higher irAE</text>
<text x="918.1" y="823.7" font-size="26.3" text-anchor="middle" fill="#d4213d" transform="rotate(-90 918.1 823.7)">score</text>
<text x="874.3" y="991.0" font-size="26.3" text-anchor="middle" transform="rotate(-90 874.3 991.0)">Composite</text>
<text x="904.1" y="991.0" font-size="26.3" text-anchor="middle" transform="rotate(-90 904.1 991.0)">model</text>
<text x="926.0" y="991.0" font-size="26.3" text-anchor="middle" transform="rotate(-90 926.0 991.0)">score</text>
<text x="892.2" y="1159.0" font-size="26.3" text-anchor="middle" fill="#3b6fd9" transform="rotate(-90 892.2 1159.0)">Lower irAE</text>
<text x="924.0" y="1159.0" font-size="26.3" text-anchor="middle" fill="#3b6fd9" transform="rotate(-90 924.0 1159.0)">score</text>
<line x1="900.8" y1="942.5" x2="900.8" y2="907.9" stroke="#d4213d" stroke-width="3.0" />
<path d="M894.8 912.7 L900.8 900.7 L906.8 912.7 L900.8 909.7 Z" fill="#d4213d"/>
<line x1="900.8" y1="1040.0" x2="900.8" y2="1077.8" stroke="#3b6fd9" stroke-width="3.0" />
<path d="M894.8 1073.0 L900.8 1085.0 L906.8 1073.0 L900.8 1076.0 Z" fill="#3b6fd9"/>
<text x="1418.3" y="900.7" font-size="28" text-anchor="middle">irAE</text>
<text x="1418.3" y="932.6" font-size="28" text-anchor="middle">grade</text>
<circle cx="1392.0" cy="960.5" r="6.5" fill="#b2bfc9" />
<text x="1428.3" y="970.0" font-size="26" text-anchor="middle">0/1</text>
<circle cx="1392.0" cy="989.1" r="6.5" fill="#62a8f7" />
<text x="1428.3" y="998.6" font-size="26" text-anchor="middle">2</text>
<circle cx="1392.0" cy="1017.0" r="6.5" fill="#bf6264" />
<text x="1428.3" y="1026.5" font-size="26" text-anchor="middle">3</text>
<circle cx="1392.0" cy="1045.3" r="6.5" fill="#fb5a45" />
<text x="1428.3" y="1054.8" font-size="26" text-anchor="middle">4</text>
<text x="1517.0" y="662.6" font-size="54" fill="#231f20" font-weight="bold">f</text>
<text x="1820.5" y="710.9" font-size="31.5" text-anchor="middle" textLength="430.6" lengthAdjust="spacingAndGlyphs">Combination therapy (LOOCV)</text>
<line x1="1620.3" y1="1162.2" x2="2010.5" y2="772.0" stroke="#bdbdbd" stroke-width="1.2" stroke-dasharray="3 2.5"/>
<line x1="1620.3" y1="770.9" x2="1620.3" y2="1163.3" stroke="#000" stroke-width="2.2" />
<line x1="1619.2" y1="1162.2" x2="2011.6" y2="1162.2" stroke="#000" stroke-width="2.2" />
<line x1="1605.3" y1="1162.2" x2="1620.3" y2="1162.2" stroke="#000" stroke-width="2.2" />
<text x="1598.8" y="1172.1" font-size="28.2" text-anchor="end" letter-spacing="1.4">0.0</text>
<line x1="1620.3" y1="1162.2" x2="1620.3" y2="1176.2" stroke="#000" stroke-width="2.2" />
<text x="1621.0" y="1208.2" font-size="28.2" text-anchor="middle" letter-spacing="1.4">0.0</text>
<line x1="1605.3" y1="1084.2" x2="1620.3" y2="1084.2" stroke="#000" stroke-width="2.2" />
<text x="1598.8" y="1094.1" font-size="28.2" text-anchor="end" letter-spacing="1.4">0.2</text>
<line x1="1698.3" y1="1162.2" x2="1698.3" y2="1176.2" stroke="#000" stroke-width="2.2" />
<text x="1699.0" y="1208.2" font-size="28.2" text-anchor="middle" letter-spacing="1.4">0.2</text>
<line x1="1605.3" y1="1006.1" x2="1620.3" y2="1006.1" stroke="#000" stroke-width="2.2" />
<text x="1598.8" y="1016.0" font-size="28.2" text-anchor="end" letter-spacing="1.4">0.4</text>
<line x1="1776.4" y1="1162.2" x2="1776.4" y2="1176.2" stroke="#000" stroke-width="2.2" />
<text x="1777.1" y="1208.2" font-size="28.2" text-anchor="middle" letter-spacing="1.4">0.4</text>
<line x1="1605.3" y1="928.1" x2="1620.3" y2="928.1" stroke="#000" stroke-width="2.2" />
<text x="1598.8" y="938.0" font-size="28.2" text-anchor="end" letter-spacing="1.4">0.6</text>
<line x1="1854.4" y1="1162.2" x2="1854.4" y2="1176.2" stroke="#000" stroke-width="2.2" />
<text x="1855.1" y="1208.2" font-size="28.2" text-anchor="middle" letter-spacing="1.4">0.6</text>
<line x1="1605.3" y1="850.0" x2="1620.3" y2="850.0" stroke="#000" stroke-width="2.2" />
<text x="1598.8" y="859.9" font-size="28.2" text-anchor="end" letter-spacing="1.4">0.8</text>
<line x1="1932.5" y1="1162.2" x2="1932.5" y2="1176.2" stroke="#000" stroke-width="2.2" />
<text x="1933.2" y="1208.2" font-size="28.2" text-anchor="middle" letter-spacing="1.4">0.8</text>
<line x1="1605.3" y1="772.0" x2="1620.3" y2="772.0" stroke="#000" stroke-width="2.2" />
<text x="1598.8" y="781.9" font-size="28.2" text-anchor="end" letter-spacing="1.4">1.0</text>
<line x1="2010.5" y1="1162.2" x2="2010.5" y2="1176.2" stroke="#000" stroke-width="2.2" />
<text x="2011.2" y="1208.2" font-size="28.2" text-anchor="middle" letter-spacing="1.4">1.0</text>
<path d="M1620.3 1162.2 L1620.3 790.6 L2010.5 790.6 L2010.5 772.0" fill="none" stroke="#62a6f0" stroke-width="3.7" />
<path d="M1620.3 1162.2 L1620.3 1022.8 L1659.3 1022.8 L1659.3 939.2 L1698.3 939.2 L1698.3 855.6 L1737.4 855.6 L1737.4 799.9 L1815.4 799.9 L1815.4 772.0 L2010.5 772.0" fill="none" stroke="#c0402f" stroke-width="3.7" />
<path d="M1620.3 1162.2 L1620.3 967.1 L1744.5 967.1 L1744.5 772.0 L2010.5 772.0" fill="none" stroke="#f39a28" stroke-width="3.7" />
<text x="1816.3" y="1256.5" font-size="29.8" text-anchor="middle">1 - Specificity</text>
<text x="1538.0" y="965.2" font-size="29.8" text-anchor="middle" transform="rotate(-90 1538.0 965.2)">Sensitivity</text>
<line x1="1869.1" y1="920.9" x2="1912.5" y2="920.9" stroke="#f39a28" stroke-width="3.7" stroke-linecap="round"/>
<line x1="1871.8" y1="1007.6" x2="1915.2" y2="1007.6" stroke="#c0402f" stroke-width="3.7" stroke-linecap="round"/>
<line x1="1869.1" y1="1089.5" x2="1912.5" y2="1089.5" stroke="#62a6f0" stroke-width="3.7" stroke-linecap="round"/>
<text x="1935.9" y="932.2" font-size="31.2">Grade 4</text>
<text x="1935.9" y="970.7" font-size="31.2">AUC = 0.86</text>
<text x="1938.0" y="1018.2" font-size="31.2">Grade 3+</text>
<text x="1938.0" y="1056.7" font-size="31.2">AUC = 0.86</text>
<text x="1935.9" y="1099.3" font-size="31.2">Grade 2+</text>
<text x="1935.9" y="1138.5" font-size="31.2">AUC = 0.95</text>
<text x="5.0" y="1374.0" font-size="54" fill="#231f20" font-weight="bold">g</text>
<text x="331.2" y="1421.6" font-size="31.5" text-anchor="middle" textLength="589.0" lengthAdjust="spacingAndGlyphs">Composite model scores vs. symptomatic</text>
<text x="330.0" y="1459.4" font-size="31.5" text-anchor="middle" textLength="510.0" lengthAdjust="spacingAndGlyphs">(grade ≥ 2) toxicity burden (LOOCV)</text>
<line x1="165.6" y1="1527.1" x2="165.6" y2="1912.7" stroke="#000" stroke-width="1.5" />
<line x1="164.9" y1="1912.0" x2="525.5" y2="1912.0" stroke="#000" stroke-width="1.5" />
<line x1="157.6" y1="1894.5" x2="165.6" y2="1894.5" stroke="#000" stroke-width="1.5" />
<text x="154.1" y="1904.3" font-size="27.8" text-anchor="end" letter-spacing="1.4">0.0</text>
<line x1="157.6" y1="1824.4" x2="165.6" y2="1824.4" stroke="#000" stroke-width="1.5" />
<text x="154.1" y="1834.2" font-size="27.8" text-anchor="end" letter-spacing="1.4">0.2</text>
<line x1="157.6" y1="1754.4" x2="165.6" y2="1754.4" stroke="#000" stroke-width="1.5" />
<text x="154.1" y="1764.2" font-size="27.8" text-anchor="end" letter-spacing="1.4">0.4</text>
<line x1="157.6" y1="1684.3" x2="165.6" y2="1684.3" stroke="#000" stroke-width="1.5" />
<text x="154.1" y="1694.1" font-size="27.8" text-anchor="end" letter-spacing="1.4">0.6</text>
<line x1="157.6" y1="1614.3" x2="165.6" y2="1614.3" stroke="#000" stroke-width="1.5" />
<text x="154.1" y="1624.1" font-size="27.8" text-anchor="end" letter-spacing="1.4">0.8</text>
<line x1="157.6" y1="1544.2" x2="165.6" y2="1544.2" stroke="#000" stroke-width="1.5" />
<text x="154.1" y="1554.0" font-size="27.8" text-anchor="end" letter-spacing="1.4">1.0</text>
<line x1="217.0" y1="1777.9" x2="217.0" y2="1842.7" stroke="#222" stroke-width="1.9" />
<line x1="217.0" y1="1889.2" x2="217.0" y2="1894.5" stroke="#222" stroke-width="1.9" />
<rect x="184.6" y="1842.7" width="64.9" height="46.6" fill="#e2ecfc" stroke="#222" stroke-width="1.9" />
<line x1="184.6" y1="1871.4" x2="249.4" y2="1871.4" stroke="#222" stroke-width="3.6" />
<circle cx="214.0" cy="1600.7" r="6.3" fill="#b7c3cc" fill-opacity="0.92"/>
<circle cx="220.8" cy="1663.2" r="6.3" fill="#b7c3cc" fill-opacity="0.92"/>
<circle cx="209.6" cy="1723.3" r="6.3" fill="#b7c3cc" fill-opacity="0.92"/>
<circle cx="222.0" cy="1745.6" r="6.3" fill="#b7c3cc" fill-opacity="0.92"/>
<circle cx="222.0" cy="1777.9" r="6.3" fill="#b7c3cc" fill-opacity="0.92"/>
<circle cx="212.0" cy="1840.4" r="6.3" fill="#b7c3cc" fill-opacity="0.92"/>
<circle cx="214.8" cy="1846.3" r="6.3" fill="#b7c3cc" fill-opacity="0.92"/>
<circle cx="220.8" cy="1850.7" r="6.3" fill="#b7c3cc" fill-opacity="0.92"/>
<circle cx="210.8" cy="1850.7" r="6.3" fill="#b7c3cc" fill-opacity="0.92"/>
<circle cx="212.8" cy="1869.4" r="6.3" fill="#b7c3cc" fill-opacity="0.92"/>
<circle cx="219.6" cy="1870.6" r="6.3" fill="#b7c3cc" fill-opacity="0.92"/>
<circle cx="210.0" cy="1873.4" r="6.3" fill="#b7c3cc" fill-opacity="0.92"/>
<circle cx="216.8" cy="1877.4" r="6.3" fill="#b7c3cc" fill-opacity="0.92"/>
<circle cx="222.8" cy="1881.4" r="6.3" fill="#b7c3cc" fill-opacity="0.92"/>
<circle cx="212.8" cy="1883.4" r="6.3" fill="#b7c3cc" fill-opacity="0.92"/>
<circle cx="218.8" cy="1887.3" r="6.3" fill="#b7c3cc" fill-opacity="0.92"/>
<circle cx="209.6" cy="1892.5" r="6.3" fill="#b7c3cc" fill-opacity="0.92"/>
<circle cx="216.0" cy="1893.3" r="6.3" fill="#b7c3cc" fill-opacity="0.92"/>
<circle cx="222.0" cy="1892.5" r="6.3" fill="#b7c3cc" fill-opacity="0.92"/>
<line x1="302.9" y1="1620.6" x2="302.9" y2="1692.0" stroke="#222" stroke-width="1.9" />
<line x1="302.9" y1="1853.5" x2="302.9" y2="1894.5" stroke="#222" stroke-width="1.9" />
<rect x="270.4" y="1692.0" width="64.9" height="161.5" fill="#9aadf8" stroke="#222" stroke-width="1.9" />
<line x1="270.4" y1="1748.4" x2="335.3" y2="1748.4" stroke="#222" stroke-width="3.6" />
<circle cx="302.5" cy="1620.6" r="6.3" fill="#2f5bf0" fill-opacity="0.92"/>
<circle cx="305.7" cy="1625.8" r="6.3" fill="#2f5bf0" fill-opacity="0.92"/>
<circle cx="297.7" cy="1651.3" r="6.3" fill="#2f5bf0" fill-opacity="0.92"/>
<circle cx="306.5" cy="1668.8" r="6.3" fill="#2f5bf0" fill-opacity="0.92"/>
<circle cx="297.7" cy="1692.3" r="6.3" fill="#2f5bf0" fill-opacity="0.92"/>
<circle cx="307.3" cy="1704.2" r="6.3" fill="#2f5bf0" fill-opacity="0.92"/>
<circle cx="304.5" cy="1709.4" r="6.3" fill="#2f5bf0" fill-opacity="0.92"/>
<circle cx="309.3" cy="1722.9" r="6.3" fill="#2f5bf0" fill-opacity="0.92"/>
<circle cx="298.5" cy="1730.1" r="6.3" fill="#2f5bf0" fill-opacity="0.92"/>
<circle cx="308.5" cy="1748.0" r="6.3" fill="#2f5bf0" fill-opacity="0.92"/>
<circle cx="304.5" cy="1758.0" r="6.3" fill="#2f5bf0" fill-opacity="0.92"/>
<circle cx="307.3" cy="1765.9" r="6.3" fill="#2f5bf0" fill-opacity="0.92"/>
<circle cx="301.3" cy="1802.9" r="6.3" fill="#2f5bf0" fill-opacity="0.92"/>
<circle cx="309.3" cy="1845.5" r="6.3" fill="#2f5bf0" fill-opacity="0.92"/>
<circle cx="307.3" cy="1853.5" r="6.3" fill="#2f5bf0" fill-opacity="0.92"/>
<circle cx="304.5" cy="1859.5" r="6.3" fill="#2f5bf0" fill-opacity="0.92"/>
<circle cx="295.3" cy="1872.2" r="6.3" fill="#2f5bf0" fill-opacity="0.92"/>
<circle cx="297.7" cy="1877.4" r="6.3" fill="#2f5bf0" fill-opacity="0.92"/>
<circle cx="303.3" cy="1884.5" r="6.3" fill="#2f5bf0" fill-opacity="0.92"/>
<circle cx="299.3" cy="1893.7" r="6.3" fill="#2f5bf0" fill-opacity="0.92"/>
<line x1="388.7" y1="1583.6" x2="388.7" y2="1631.4" stroke="#222" stroke-width="1.9" />
<line x1="388.7" y1="1780.0" x2="388.7" y2="1881.4" stroke="#222" stroke-width="1.9" />
<rect x="356.2" y="1631.4" width="64.9" height="148.5" fill="#dfa3a3" stroke="#222" stroke-width="1.9" />
<line x1="356.2" y1="1738.6" x2="421.1" y2="1738.6" stroke="#222" stroke-width="3.6" />
<circle cx="383.7" cy="1583.6" r="6.3" fill="#bf6264" fill-opacity="0.92"/>
<circle cx="394.9" cy="1602.3" r="6.3" fill="#bf6264" fill-opacity="0.92"/>
<circle cx="386.1" cy="1641.3" r="6.3" fill="#bf6264" fill-opacity="0.92"/>
<circle cx="384.9" cy="1732.1" r="6.3" fill="#bf6264" fill-opacity="0.92"/>
<circle cx="388.9" cy="1746.0" r="6.3" fill="#bf6264" fill-opacity="0.92"/>
<circle cx="384.1" cy="1750.8" r="6.3" fill="#bf6264" fill-opacity="0.92"/>
<circle cx="388.1" cy="1867.4" r="6.3" fill="#bf6264" fill-opacity="0.92"/>
<circle cx="382.5" cy="1880.6" r="6.3" fill="#bf6264" fill-opacity="0.92"/>
<line x1="474.5" y1="1571.7" x2="474.5" y2="1617.8" stroke="#222" stroke-width="1.9" />
<line x1="474.5" y1="1710.9" x2="474.5" y2="1757.2" stroke="#222" stroke-width="1.9" />
<rect x="442.1" y="1617.8" width="64.9" height="93.2" fill="#ff9585" stroke="#222" stroke-width="1.9" />
<line x1="442.1" y1="1664.0" x2="506.9" y2="1664.0" stroke="#222" stroke-width="3.6" />
<circle cx="467.9" cy="1571.7" r="6.3" fill="#fb5a45" fill-opacity="0.92"/>
<circle cx="468.7" cy="1757.2" r="6.3" fill="#fb5a45" fill-opacity="0.92"/>
<line x1="217.0" y1="1912.0" x2="217.0" y2="1921.0" stroke="#000" stroke-width="1.5" />
<text x="217.0" y="1949.0" font-size="27.8" text-anchor="middle">0</text>
<line x1="302.9" y1="1912.0" x2="302.9" y2="1921.0" stroke="#000" stroke-width="1.5" />
<text x="302.9" y="1949.0" font-size="27.8" text-anchor="middle">1</text>
<line x1="388.7" y1="1912.0" x2="388.7" y2="1921.0" stroke="#000" stroke-width="1.5" />
<text x="388.7" y="1949.0" font-size="27.8" text-anchor="middle">2</text>
<line x1="474.5" y1="1912.0" x2="474.5" y2="1921.0" stroke="#000" stroke-width="1.5" />
<text x="474.5" y="1949.0" font-size="27.8" text-anchor="middle">3</text>
<text x="186.0" y="1553.0" font-size="25.8"><tspan font-style="italic">P</tspan> = 0.008</text>
<text x="340.4" y="1992.9" font-size="32.2" text-anchor="middle" textLength="362.0" lengthAdjust="spacingAndGlyphs">No. of symptomatic irAEs</text>
<text x="48.3" y="1549.0" font-size="26.3" text-anchor="middle" fill="#d4213d" transform="rotate(-90 48.3 1549.0)">Higher irAE</text>
<text x="79.4" y="1549.0" font-size="26.3" text-anchor="middle" fill="#d4213d" transform="rotate(-90 79.4 1549.0)">score</text>
<text x="32.9" y="1716.2" font-size="26.3" text-anchor="middle" transform="rotate(-90 32.9 1716.2)">Composite</text>
<text x="62.2" y="1716.2" font-size="26.3" text-anchor="middle" transform="rotate(-90 62.2 1716.2)">model</text>
<text x="82.9" y="1716.2" font-size="26.3" text-anchor="middle" transform="rotate(-90 82.9 1716.2)">score</text>
<text x="48.3" y="1881.4" font-size="26.3" text-anchor="middle" fill="#3b6fd9" transform="rotate(-90 48.3 1881.4)">Lower irAE</text>
<text x="82.1" y="1881.4" font-size="26.3" text-anchor="middle" fill="#3b6fd9" transform="rotate(-90 82.1 1881.4)">score</text>
<line x1="58.9" y1="1668.4" x2="58.9" y2="1631.8" stroke="#d4213d" stroke-width="3.0" />
<path d="M52.9 1636.6 L58.9 1624.6 L64.9 1636.6 L58.9 1633.6 Z" fill="#d4213d"/>
<line x1="58.9" y1="1764.0" x2="58.9" y2="1801.8" stroke="#3b6fd9" stroke-width="3.0" />
<path d="M52.9 1797.0 L58.9 1809.0 L64.9 1797.0 L58.9 1800.0 Z" fill="#3b6fd9"/>
<text x="649.0" y="1381.0" font-size="54" fill="#231f20" font-weight="bold">h</text>
<text x="997.3" y="1423.6" font-size="31.5" text-anchor="middle" textLength="518.0" lengthAdjust="spacingAndGlyphs">Composite model scores vs. number</text>
<text x="996.5" y="1462.2" font-size="31.5" text-anchor="middle" textLength="499.6" lengthAdjust="spacingAndGlyphs">of organ system toxicities (LOOCV)</text>
<line x1="831.9" y1="1520.0" x2="831.9" y2="1915.1" stroke="#000" stroke-width="1.5" />
<line x1="831.2" y1="1914.4" x2="1201.3" y2="1914.4" stroke="#000" stroke-width="1.5" />
<line x1="823.9" y1="1896.9" x2="831.9" y2="1896.9" stroke="#000" stroke-width="1.5" />
<text x="821.9" y="1906.7" font-size="27.6" text-anchor="end" letter-spacing="1.4">0.0</text>
<line x1="823.9" y1="1824.8" x2="831.9" y2="1824.8" stroke="#000" stroke-width="1.5" />
<text x="821.9" y="1834.6" font-size="27.6" text-anchor="end" letter-spacing="1.4">0.2</text>
<line x1="823.9" y1="1752.8" x2="831.9" y2="1752.8" stroke="#000" stroke-width="1.5" />
<text x="821.9" y="1762.6" font-size="27.6" text-anchor="end" letter-spacing="1.4">0.4</text>
<line x1="823.9" y1="1680.7" x2="831.9" y2="1680.7" stroke="#000" stroke-width="1.5" />
<text x="821.9" y="1690.5" font-size="27.6" text-anchor="end" letter-spacing="1.4">0.6</text>
<line x1="823.9" y1="1608.7" x2="831.9" y2="1608.7" stroke="#000" stroke-width="1.5" />
<text x="821.9" y="1618.5" font-size="27.6" text-anchor="end" letter-spacing="1.4">0.8</text>
<line x1="823.9" y1="1536.6" x2="831.9" y2="1536.6" stroke="#000" stroke-width="1.5" />
<text x="821.9" y="1546.4" font-size="27.6" text-anchor="end" letter-spacing="1.4">1.0</text>
<line x1="884.0" y1="1782.0" x2="884.0" y2="1831.0" stroke="#222" stroke-width="1.9" />
<line x1="884.0" y1="1887.0" x2="884.0" y2="1896.9" stroke="#222" stroke-width="1.9" />
<rect x="850.8" y="1831.0" width="66.5" height="56.0" fill="#e2ecfc" stroke="#222" stroke-width="1.9" />
<line x1="850.8" y1="1875.8" x2="917.2" y2="1875.8" stroke="#222" stroke-width="3.6" />
<circle cx="882.0" cy="1593.9" r="6.3" fill="#b7c3cc" fill-opacity="0.92"/>
<circle cx="878.0" cy="1658.8" r="6.3" fill="#b7c3cc" fill-opacity="0.92"/>
<circle cx="888.8" cy="1743.6" r="6.3" fill="#b7c3cc" fill-opacity="0.92"/>
<circle cx="884.8" cy="1777.1" r="6.3" fill="#b7c3cc" fill-opacity="0.92"/>
<circle cx="880.0" cy="1848.3" r="6.3" fill="#b7c3cc" fill-opacity="0.92"/>
<circle cx="889.6" cy="1851.5" r="6.3" fill="#b7c3cc" fill-opacity="0.92"/>
<circle cx="887.6" cy="1853.5" r="6.3" fill="#b7c3cc" fill-opacity="0.92"/>
<circle cx="882.8" cy="1871.4" r="6.3" fill="#b7c3cc" fill-opacity="0.92"/>
<circle cx="888.8" cy="1871.4" r="6.3" fill="#b7c3cc" fill-opacity="0.92"/>
<circle cx="880.8" cy="1877.4" r="6.3" fill="#b7c3cc" fill-opacity="0.92"/>
<circle cx="887.6" cy="1880.6" r="6.3" fill="#b7c3cc" fill-opacity="0.92"/>
<circle cx="878.8" cy="1883.4" r="6.3" fill="#b7c3cc" fill-opacity="0.92"/>
<circle cx="884.8" cy="1887.3" r="6.3" fill="#b7c3cc" fill-opacity="0.92"/>
<circle cx="882.0" cy="1893.3" r="6.3" fill="#b7c3cc" fill-opacity="0.92"/>
<circle cx="886.0" cy="1896.1" r="6.3" fill="#b7c3cc" fill-opacity="0.92"/>
<line x1="972.4" y1="1621.8" x2="972.4" y2="1729.4" stroke="#222" stroke-width="1.9" />
<line x1="972.4" y1="1873.8" x2="972.4" y2="1895.5" stroke="#222" stroke-width="1.9" />
<rect x="939.1" y="1729.4" width="66.5" height="144.5" fill="#9aadf8" stroke="#222" stroke-width="1.9" />
<line x1="939.1" y1="1841.6" x2="1005.6" y2="1841.6" stroke="#222" stroke-width="3.6" />
<circle cx="971.6" cy="1621.8" r="6.3" fill="#2f5bf0" fill-opacity="0.92"/>
<circle cx="974.4" cy="1720.1" r="6.3" fill="#2f5bf0" fill-opacity="0.92"/>
<circle cx="969.6" cy="1724.1" r="6.3" fill="#2f5bf0" fill-opacity="0.92"/>
<circle cx="967.2" cy="1729.3" r="6.3" fill="#2f5bf0" fill-opacity="0.92"/>
<circle cx="968.8" cy="1756.8" r="6.3" fill="#2f5bf0" fill-opacity="0.92"/>
<circle cx="965.6" cy="1763.9" r="6.3" fill="#2f5bf0" fill-opacity="0.92"/>
<circle cx="967.2" cy="1802.5" r="6.3" fill="#2f5bf0" fill-opacity="0.92"/>
<circle cx="976.4" cy="1840.8" r="6.3" fill="#2f5bf0" fill-opacity="0.92"/>
<circle cx="973.6" cy="1847.5" r="6.3" fill="#2f5bf0" fill-opacity="0.92"/>
<circle cx="968.4" cy="1854.3" r="6.3" fill="#2f5bf0" fill-opacity="0.92"/>
<circle cx="975.6" cy="1859.5" r="6.3" fill="#2f5bf0" fill-opacity="0.92"/>
<circle cx="970.4" cy="1873.4" r="6.3" fill="#2f5bf0" fill-opacity="0.92"/>
<circle cx="977.2" cy="1873.4" r="6.3" fill="#2f5bf0" fill-opacity="0.92"/>
<circle cx="978.4" cy="1886.2" r="6.3" fill="#2f5bf0" fill-opacity="0.92"/>
<circle cx="971.2" cy="1891.3" r="6.3" fill="#2f5bf0" fill-opacity="0.92"/>
<circle cx="966.4" cy="1894.5" r="6.3" fill="#2f5bf0" fill-opacity="0.92"/>
<line x1="1060.8" y1="1577.7" x2="1060.8" y2="1627.4" stroke="#222" stroke-width="1.9" />
<line x1="1060.8" y1="1872.6" x2="1060.8" y2="1896.2" stroke="#222" stroke-width="1.9" />
<rect x="1027.5" y="1627.4" width="66.5" height="245.2" fill="#dfa3a3" stroke="#222" stroke-width="1.9" />
<line x1="1027.5" y1="1702.0" x2="1094.0" y2="1702.0" stroke="#222" stroke-width="3.6" />
<circle cx="1056.0" cy="1577.6" r="6.3" fill="#bf6264" fill-opacity="0.92"/>
<circle cx="1062.0" cy="1615.4" r="6.3" fill="#bf6264" fill-opacity="0.92"/>
<circle cx="1061.2" cy="1619.8" r="6.3" fill="#bf6264" fill-opacity="0.92"/>
<circle cx="1058.0" cy="1635.3" r="6.3" fill="#bf6264" fill-opacity="0.92"/>
<circle cx="1058.8" cy="1646.5" r="6.3" fill="#bf6264" fill-opacity="0.92"/>
<circle cx="1067.2" cy="1701.8" r="6.3" fill="#bf6264" fill-opacity="0.92"/>
<circle cx="1056.4" cy="1852.7" r="6.3" fill="#bf6264" fill-opacity="0.92"/>
<circle cx="1062.0" cy="1868.2" r="6.3" fill="#bf6264" fill-opacity="0.92"/>
<circle cx="1068.0" cy="1877.4" r="6.3" fill="#bf6264" fill-opacity="0.92"/>
<circle cx="1056.0" cy="1882.2" r="6.3" fill="#bf6264" fill-opacity="0.92"/>
<circle cx="1060.8" cy="1896.1" r="6.3" fill="#bf6264" fill-opacity="0.92"/>
<line x1="1149.1" y1="1564.8" x2="1149.1" y2="1664.5" stroke="#222" stroke-width="1.9" />
<line x1="1149.1" y1="1746.4" x2="1149.1" y2="1757.1" stroke="#222" stroke-width="1.9" />
<rect x="1115.8" y="1664.5" width="66.5" height="81.9" fill="#ff9585" stroke="#222" stroke-width="1.9" />
<line x1="1115.8" y1="1707.7" x2="1182.3" y2="1707.7" stroke="#222" stroke-width="3.6" />
<circle cx="1147.5" cy="1564.9" r="6.3" fill="#fb5a45" fill-opacity="0.92"/>
<circle cx="1143.1" cy="1595.5" r="6.3" fill="#fb5a45" fill-opacity="0.92"/>
<circle cx="1152.7" cy="1664.4" r="6.3" fill="#fb5a45" fill-opacity="0.92"/>
<circle cx="1149.5" cy="1689.1" r="6.3" fill="#fb5a45" fill-opacity="0.92"/>
<circle cx="1150.7" cy="1707.4" r="6.3" fill="#fb5a45" fill-opacity="0.92"/>
<circle cx="1150.7" cy="1743.2" r="6.3" fill="#fb5a45" fill-opacity="0.92"/>
<circle cx="1145.5" cy="1748.0" r="6.3" fill="#fb5a45" fill-opacity="0.92"/>
<circle cx="1151.5" cy="1750.0" r="6.3" fill="#fb5a45" fill-opacity="0.92"/>
<circle cx="1150.3" cy="1756.0" r="6.3" fill="#fb5a45" fill-opacity="0.92"/>
<line x1="884.0" y1="1914.4" x2="884.0" y2="1923.4" stroke="#000" stroke-width="1.5" />
<text x="884.0" y="1947.0" font-size="27.8" text-anchor="middle">0</text>
<line x1="972.4" y1="1914.4" x2="972.4" y2="1923.4" stroke="#000" stroke-width="1.5" />
<text x="972.4" y="1947.0" font-size="27.8" text-anchor="middle">1</text>
<line x1="1060.8" y1="1914.4" x2="1060.8" y2="1923.4" stroke="#000" stroke-width="1.5" />
<text x="1060.8" y="1947.0" font-size="27.8" text-anchor="middle">2</text>
<line x1="1149.1" y1="1914.4" x2="1149.1" y2="1923.4" stroke="#000" stroke-width="1.5" />
<text x="1156.1" y="1947.0" font-size="27.8" text-anchor="middle">3+</text>
<text x="855.0" y="1543.8" font-size="25.8"><tspan font-style="italic">P</tspan> = 0.007</text>
<text x="1003.9" y="1989.7" font-size="32.2" text-anchor="middle" textLength="421.0" lengthAdjust="spacingAndGlyphs">No. of organ system toxicities</text>
<text x="720.2" y="1549.0" font-size="26.3" text-anchor="middle" fill="#d4213d" transform="rotate(-90 720.2 1549.0)">Higher irAE</text>
<text x="748.0" y="1549.0" font-size="26.3" text-anchor="middle" fill="#d4213d" transform="rotate(-90 748.0 1549.0)">score</text>
<text x="702.2" y="1716.0" font-size="26.3" text-anchor="middle" transform="rotate(-90 702.2 1716.0)">Composite</text>
<text x="732.1" y="1716.0" font-size="26.3" text-anchor="middle" transform="rotate(-90 732.1 1716.0)">model</text>
<text x="754.0" y="1716.0" font-size="26.3" text-anchor="middle" transform="rotate(-90 754.0 1716.0)">score</text>
<text x="720.2" y="1882.0" font-size="26.3" text-anchor="middle" fill="#3b6fd9" transform="rotate(-90 720.2 1882.0)">Lower irAE</text>
<text x="752.8" y="1882.0" font-size="26.3" text-anchor="middle" fill="#3b6fd9" transform="rotate(-90 752.8 1882.0)">score</text>
<line x1="729.6" y1="1669.6" x2="729.6" y2="1633.0" stroke="#d4213d" stroke-width="3.0" />
<path d="M723.6 1637.8 L729.6 1625.8 L735.6 1637.8 L729.6 1634.8 Z" fill="#d4213d"/>
<line x1="729.6" y1="1766.0" x2="729.6" y2="1803.8" stroke="#3b6fd9" stroke-width="3.0" />
<path d="M723.6 1799.0 L729.6 1811.0 L735.6 1799.0 L729.6 1802.0 Z" fill="#3b6fd9"/>
<text x="1363.3" y="1380.0" font-size="54" fill="#231f20" font-weight="bold">i</text>
<text x="1786.4" y="1397.0" font-size="32" text-anchor="middle" textLength="200.0" lengthAdjust="spacingAndGlyphs">Organ system</text>
<text x="1596.0" y="1545.8" font-size="29.5" text-anchor="end">Patient</text>
<rect x="1369.0" y="1558.3" width="32.6" height="21.9" fill="#f030a2" />
<rect x="1401.6" y="1558.3" width="32.8" height="21.7" fill="#69bc6d" />
<rect x="1434.4" y="1558.3" width="32.8" height="21.7" fill="#ececec" />
<text x="1595.5" y="1575.2" font-size="22.9" text-anchor="end">YUHEAL</text>
<rect x="1369.0" y="1579.4" width="32.6" height="21.9" fill="#f12f9a" />
<rect x="1401.6" y="1579.4" width="32.8" height="21.7" fill="#9bd49e" />
<rect x="1434.4" y="1579.4" width="32.8" height="21.7" fill="#000" />
<text x="1595.5" y="1596.2" font-size="22.9" text-anchor="end">YUDUAR</text>
<rect x="1369.0" y="1600.4" width="32.6" height="21.9" fill="#f32e92" />
<rect x="1401.6" y="1600.4" width="32.8" height="21.7" fill="#ffffff" />
<rect x="1434.4" y="1600.4" width="32.8" height="21.7" fill="#ececec" />
<text x="1595.5" y="1617.3" font-size="22.9" text-anchor="end">YUGIRL</text>
<rect x="1369.0" y="1621.5" width="32.6" height="21.9" fill="#f42c8a" />
<rect x="1401.6" y="1621.5" width="32.8" height="21.7" fill="#009300" />
<rect x="1434.4" y="1621.5" width="32.8" height="21.7" fill="#000" />
<text x="1595.5" y="1638.3" font-size="22.9" text-anchor="end">YUBROMO</text>
<rect x="1369.0" y="1642.5" width="32.6" height="21.9" fill="#f62b82" />
<rect x="1401.6" y="1642.5" width="32.8" height="21.7" fill="#9bd49e" />
<rect x="1434.4" y="1642.5" width="32.8" height="21.7" fill="#000" />
<text x="1595.5" y="1659.4" font-size="22.9" text-anchor="end">YUCEVO</text>
<rect x="1369.0" y="1663.6" width="32.6" height="21.9" fill="#f72a7a" />
<rect x="1401.6" y="1663.6" width="32.8" height="21.7" fill="#9bd49e" />
<rect x="1434.4" y="1663.6" width="32.8" height="21.7" fill="#000" />
<text x="1595.5" y="1680.5" font-size="22.9" text-anchor="end">YUSMAL</text>
<rect x="1369.0" y="1684.7" width="32.6" height="21.9" fill="#f82971" />
<rect x="1401.6" y="1684.7" width="32.8" height="21.7" fill="#dde9cf" />
<rect x="1434.4" y="1684.7" width="32.8" height="21.7" fill="#ececec" />
<text x="1595.5" y="1701.5" font-size="22.9" text-anchor="end">YUBAIX</text>
<rect x="1369.0" y="1705.7" width="32.6" height="21.9" fill="#f92969" />
<rect x="1401.6" y="1705.7" width="32.8" height="21.7" fill="#9bd49e" />
<rect x="1434.4" y="1705.7" width="32.8" height="21.7" fill="#ececec" />
<text x="1595.5" y="1722.6" font-size="22.9" text-anchor="end">YUBRET</text>
<rect x="1369.0" y="1726.8" width="32.6" height="21.9" fill="#fa2860" />
<rect x="1401.6" y="1726.8" width="32.8" height="21.7" fill="#9bd49e" />
<rect x="1434.4" y="1726.8" width="32.8" height="21.7" fill="#000" />
<text x="1595.5" y="1743.6" font-size="22.9" text-anchor="end">YUCADA</text>
<rect x="1369.0" y="1747.8" width="32.6" height="21.9" fill="#fb2853" />
<rect x="1401.6" y="1747.8" width="32.8" height="21.7" fill="#ffffff" />
<rect x="1434.4" y="1747.8" width="32.8" height="21.7" fill="#ececec" />
<text x="1595.5" y="1764.7" font-size="22.9" text-anchor="end">YUDIME</text>
<rect x="1369.0" y="1768.9" width="32.6" height="21.9" fill="#fb2847" />
<rect x="1401.6" y="1768.9" width="32.8" height="21.7" fill="#69bc6d" />
<rect x="1434.4" y="1768.9" width="32.8" height="21.7" fill="#ececec" />
<text x="1595.5" y="1785.8" font-size="22.9" text-anchor="end">YUQIP</text>
<rect x="1369.0" y="1790.0" width="32.6" height="21.9" fill="#fc283a" />
<rect x="1401.6" y="1790.0" width="32.8" height="21.7" fill="#69bc6d" />
<rect x="1434.4" y="1790.0" width="32.8" height="21.7" fill="#000" />
<text x="1595.5" y="1806.8" font-size="22.9" text-anchor="end">YUFROZE</text>
<rect x="1369.0" y="1811.0" width="32.6" height="21.9" fill="#fe282d" />
<rect x="1401.6" y="1811.0" width="32.8" height="21.7" fill="#9bd49e" />
<rect x="1434.4" y="1811.0" width="32.8" height="21.7" fill="#000" />
<text x="1595.5" y="1827.9" font-size="22.9" text-anchor="end">YUHONEY</text>
<rect x="1369.0" y="1832.1" width="32.6" height="21.9" fill="#ff2820" />
<rect x="1401.6" y="1832.1" width="32.8" height="21.7" fill="#69bc6d" />
<rect x="1434.4" y="1832.1" width="32.8" height="21.7" fill="#ececec" />
<text x="1595.5" y="1848.9" font-size="22.9" text-anchor="end">YULAMB</text>
<rect x="1369.0" y="1853.1" width="32.6" height="21.9" fill="#ff2911" />
<rect x="1401.6" y="1853.1" width="32.8" height="21.7" fill="#dde9cf" />
<rect x="1434.4" y="1853.1" width="32.8" height="21.7" fill="#000" />
<text x="1595.5" y="1870.0" font-size="22.9" text-anchor="end">YUSONG</text>
<rect x="1369.0" y="1874.2" width="32.6" height="21.9" fill="#ff2a02" />
<rect x="1401.6" y="1874.2" width="32.8" height="21.7" fill="#dde9cf" />
<rect x="1434.4" y="1874.2" width="32.8" height="21.7" fill="#ececec" />
<text x="1595.5" y="1891.1" font-size="22.9" text-anchor="end">YUPRAF</text>
<rect x="1369.0" y="1895.3" width="32.6" height="21.9" fill="#ff2a02" />
<rect x="1401.6" y="1895.3" width="32.8" height="21.7" fill="#dde9cf" />
<rect x="1434.4" y="1895.3" width="32.8" height="21.7" fill="#000" />
<text x="1595.5" y="1912.1" font-size="22.9" text-anchor="end">YURICA</text>
<rect x="1369.0" y="1916.3" width="32.6" height="21.9" fill="#ff2a02" />
<rect x="1401.6" y="1916.3" width="32.8" height="21.7" fill="#dde9cf" />
<rect x="1434.4" y="1916.3" width="32.8" height="21.7" fill="#ececec" />
<text x="1595.5" y="1933.2" font-size="22.9" text-anchor="end">YUPOGER</text>
<rect x="1369.0" y="1937.4" width="32.6" height="21.9" fill="#f02828" />
<rect x="1401.6" y="1937.4" width="32.8" height="21.7" fill="#ffffff" />
<rect x="1434.4" y="1937.4" width="32.8" height="21.7" fill="#000" />
<text x="1595.5" y="1954.2" font-size="22.9" text-anchor="end">YUARGE</text>
<rect x="1369.0" y="1958.4" width="32.6" height="21.9" fill="#ed282d" />
<rect x="1401.6" y="1958.4" width="32.8" height="21.7" fill="#69bc6d" />
<rect x="1434.4" y="1958.4" width="32.8" height="21.7" fill="#ececec" />
<text x="1595.5" y="1975.3" font-size="22.9" text-anchor="end">YURADIO</text>
<rect x="1369.0" y="1979.5" width="32.6" height="21.9" fill="#ea2832" />
<rect x="1401.6" y="1979.5" width="32.8" height="21.7" fill="#69bc6d" />
<rect x="1434.4" y="1979.5" width="32.8" height="21.7" fill="#000" />
<text x="1595.5" y="1996.4" font-size="22.9" text-anchor="end">YUAMIGO</text>
<rect x="1369.0" y="2000.6" width="32.6" height="21.9" fill="#e62839" />
<rect x="1401.6" y="2000.6" width="32.8" height="21.7" fill="#69bc6d" />
<rect x="1434.4" y="2000.6" width="32.8" height="21.7" fill="#ececec" />
<text x="1595.5" y="2017.4" font-size="22.9" text-anchor="end">YUGIM</text>
<rect x="1369.0" y="2021.6" width="32.6" height="21.9" fill="#e22840" />
<rect x="1401.6" y="2021.6" width="32.8" height="21.7" fill="#69bc6d" />
<rect x="1434.4" y="2021.6" width="32.8" height="21.7" fill="#000" />
<text x="1595.5" y="2038.5" font-size="22.9" text-anchor="end">YUGRAPH</text>
<rect x="1369.0" y="2042.7" width="32.6" height="21.9" fill="#de2848" />
<rect x="1401.6" y="2042.7" width="32.8" height="21.7" fill="#dde9cf" />
<rect x="1434.4" y="2042.7" width="32.8" height="21.7" fill="#ececec" />
<text x="1595.5" y="2059.5" font-size="22.9" text-anchor="end">YUDONA</text>
<rect x="1369.0" y="2063.7" width="32.6" height="21.9" fill="#d92850" />
<rect x="1401.6" y="2063.7" width="32.8" height="21.7" fill="#dde9cf" />
<rect x="1434.4" y="2063.7" width="32.8" height="21.7" fill="#ececec" />
<text x="1595.5" y="2080.6" font-size="22.9" text-anchor="end">YUMAXI</text>
<rect x="1369.0" y="2084.8" width="32.6" height="21.9" fill="#d02860" />
<rect x="1401.6" y="2084.8" width="32.8" height="21.7" fill="#ffffff" />
<rect x="1434.4" y="2084.8" width="32.8" height="21.7" fill="#000" />
<text x="1595.5" y="2101.7" font-size="22.9" text-anchor="end">YUDNA</text>
<rect x="1369.0" y="2105.9" width="32.6" height="21.9" fill="#ad2884" />
<rect x="1401.6" y="2105.9" width="32.8" height="21.7" fill="#dde9cf" />
<rect x="1434.4" y="2105.9" width="32.8" height="21.7" fill="#ececec" />
<text x="1595.5" y="2122.7" font-size="22.9" text-anchor="end">YURAISE</text>
<rect x="1369.0" y="2126.9" width="32.6" height="21.9" fill="#6329c3" />
<rect x="1401.6" y="2126.9" width="32.8" height="21.7" fill="#dde9cf" />
<rect x="1434.4" y="2126.9" width="32.8" height="21.7" fill="#000" />
<text x="1595.5" y="2143.8" font-size="22.9" text-anchor="end">YUVITZ</text>
<rect x="1369.0" y="2148.0" width="32.6" height="21.9" fill="#6029c5" />
<rect x="1401.6" y="2148.0" width="32.8" height="21.7" fill="#dde9cf" />
<rect x="1434.4" y="2148.0" width="32.8" height="21.7" fill="#ececec" />
<text x="1595.5" y="2164.8" font-size="22.9" text-anchor="end">YUGRUE</text>
<rect x="1369.0" y="2169.0" width="32.6" height="21.9" fill="#5c2ac6" />
<rect x="1401.6" y="2169.0" width="32.8" height="21.7" fill="#ffffff" />
<rect x="1434.4" y="2169.0" width="32.8" height="21.7" fill="#000" />
<text x="1595.5" y="2185.9" font-size="22.9" text-anchor="end">YUZIRG</text>
<rect x="1369.0" y="2190.1" width="32.6" height="21.9" fill="#592ac8" />
<rect x="1401.6" y="2190.1" width="32.8" height="21.7" fill="#ffffff" />
<rect x="1434.4" y="2190.1" width="32.8" height="21.7" fill="#000" />
<text x="1595.5" y="2207.0" font-size="22.9" text-anchor="end">YUWHEY</text>
<rect x="1369.0" y="2211.2" width="32.6" height="21.9" fill="#542bca" />
<rect x="1401.6" y="2211.2" width="32.8" height="21.7" fill="#9bd49e" />
<rect x="1434.4" y="2211.2" width="32.8" height="21.7" fill="#ececec" />
<text x="1595.5" y="2228.0" font-size="22.9" text-anchor="end">YUEVRY</text>
<rect x="1369.0" y="2232.2" width="32.6" height="21.9" fill="#502bcb" />
<rect x="1401.6" y="2232.2" width="32.8" height="21.7" fill="#dde9cf" />
<rect x="1434.4" y="2232.2" width="32.8" height="21.7" fill="#000" />
<text x="1595.5" y="2249.1" font-size="22.9" text-anchor="end">YUKEID</text>
<rect x="1369.0" y="2253.3" width="32.6" height="21.9" fill="#4b2ccd" />
<rect x="1401.6" y="2253.3" width="32.8" height="21.7" fill="#dde9cf" />
<rect x="1434.4" y="2253.3" width="32.8" height="21.7" fill="#ececec" />
<text x="1595.5" y="2270.1" font-size="22.9" text-anchor="end">YUBLIT</text>
<rect x="1369.0" y="2274.3" width="32.6" height="21.9" fill="#422ed4" />
<rect x="1401.6" y="2274.3" width="32.8" height="21.7" fill="#9bd49e" />
<rect x="1434.4" y="2274.3" width="32.8" height="21.7" fill="#000" />
<text x="1595.5" y="2291.2" font-size="22.9" text-anchor="end">WULOUIS</text>
<rect x="1369.0" y="2295.4" width="32.6" height="21.9" fill="#3a30dc" />
<rect x="1401.6" y="2295.4" width="32.8" height="21.7" fill="#ffffff" />
<rect x="1434.4" y="2295.4" width="32.8" height="21.7" fill="#ececec" />
<text x="1595.5" y="2312.3" font-size="22.9" text-anchor="end">YUPARK</text>
<rect x="1369.0" y="2316.5" width="32.6" height="21.9" fill="#3731de" />
<rect x="1401.6" y="2316.5" width="32.8" height="21.7" fill="#ffffff" />
<rect x="1434.4" y="2316.5" width="32.8" height="21.7" fill="#000" />
<text x="1595.5" y="2333.3" font-size="22.9" text-anchor="end">YUFROME</text>
<rect x="1369.0" y="2337.5" width="32.6" height="21.9" fill="#3333e0" />
<rect x="1401.6" y="2337.5" width="32.8" height="21.7" fill="#dde9cf" />
<rect x="1434.4" y="2337.5" width="32.8" height="21.7" fill="#ececec" />
<text x="1595.5" y="2354.4" font-size="22.9" text-anchor="end">YUROSA</text>
<rect x="1369.0" y="2358.6" width="32.6" height="21.9" fill="#3034e2" />
<rect x="1401.6" y="2358.6" width="32.8" height="21.7" fill="#dde9cf" />
<rect x="1434.4" y="2358.6" width="32.8" height="21.7" fill="#000" />
<text x="1595.5" y="2375.4" font-size="22.9" text-anchor="end">YUMEDIC</text>
<rect x="1369.0" y="2379.6" width="32.6" height="21.9" fill="#2c34e5" />
<rect x="1401.6" y="2379.6" width="32.8" height="21.7" fill="#9bd49e" />
<rect x="1434.4" y="2379.6" width="32.8" height="21.7" fill="#ececec" />
<text x="1595.5" y="2396.5" font-size="22.9" text-anchor="end">YUCUSK</text>
<rect x="1369.0" y="2400.7" width="32.6" height="21.9" fill="#2935e8" />
<rect x="1401.6" y="2400.7" width="32.8" height="21.7" fill="#ffffff" />
<rect x="1434.4" y="2400.7" width="32.8" height="21.7" fill="#000" />
<text x="1595.5" y="2417.6" font-size="22.9" text-anchor="end">YUBUMP</text>
<rect x="1369.0" y="2421.8" width="32.6" height="21.9" fill="#2736ea" />
<rect x="1401.6" y="2421.8" width="32.8" height="21.7" fill="#ffffff" />
<rect x="1434.4" y="2421.8" width="32.8" height="21.7" fill="#ececec" />
<text x="1595.5" y="2438.6" font-size="22.9" text-anchor="end">YUBIFO</text>
<rect x="1369.0" y="2442.8" width="32.6" height="21.9" fill="#2437ec" />
<rect x="1401.6" y="2442.8" width="32.8" height="21.7" fill="#9bd49e" />
<rect x="1434.4" y="2442.8" width="32.8" height="21.7" fill="#ececec" />
<text x="1595.5" y="2459.7" font-size="22.9" text-anchor="end">YUPRETE</text>
<rect x="1369.0" y="2463.9" width="32.6" height="21.9" fill="#2238ee" />
<rect x="1401.6" y="2463.9" width="32.8" height="21.7" fill="#ffffff" />
<rect x="1434.4" y="2463.9" width="32.8" height="21.7" fill="#ececec" />
<text x="1595.5" y="2480.7" font-size="22.9" text-anchor="end">YUTACI</text>
<rect x="1369.0" y="2484.9" width="32.6" height="21.9" fill="#2039f0" />
<rect x="1401.6" y="2484.9" width="32.8" height="21.7" fill="#ffffff" />
<rect x="1434.4" y="2484.9" width="32.8" height="21.7" fill="#000" />
<text x="1595.5" y="2501.8" font-size="22.9" text-anchor="end">YUADD</text>
<rect x="1369.0" y="2506.0" width="32.6" height="21.9" fill="#1d3bf3" />
<rect x="1401.6" y="2506.0" width="32.8" height="21.7" fill="#dde9cf" />
<rect x="1434.4" y="2506.0" width="32.8" height="21.7" fill="#ececec" />
<text x="1595.5" y="2522.9" font-size="22.9" text-anchor="end">WUPALO</text>
<rect x="1369.0" y="2527.1" width="32.6" height="21.9" fill="#1b3ef5" />
<rect x="1401.6" y="2527.1" width="32.8" height="21.7" fill="#ffffff" />
<rect x="1434.4" y="2527.1" width="32.8" height="21.7" fill="#ececec" />
<text x="1595.5" y="2543.9" font-size="22.9" text-anchor="end">YUHIMO</text>
<rect x="1369.0" y="2548.1" width="32.6" height="21.9" fill="#1840f8" />
<rect x="1401.6" y="2548.1" width="32.8" height="21.7" fill="#dde9cf" />
<rect x="1434.4" y="2548.1" width="32.8" height="21.7" fill="#000" />
<text x="1595.5" y="2565.0" font-size="22.9" text-anchor="end">YURIDA</text>
<rect x="1369.0" y="2569.2" width="32.6" height="21.9" fill="#1641f9" />
<rect x="1401.6" y="2569.2" width="32.8" height="21.7" fill="#dde9cf" />
<rect x="1434.4" y="2569.2" width="32.8" height="21.7" fill="#000" />
<text x="1595.5" y="2586.0" font-size="22.9" text-anchor="end">YUDEBIT</text>
<rect x="1369.0" y="2590.2" width="32.6" height="21.9" fill="#1542fb" />
<rect x="1401.6" y="2590.2" width="32.8" height="21.7" fill="#ffffff" />
<rect x="1434.4" y="2590.2" width="32.8" height="21.7" fill="#000" />
<text x="1595.5" y="2607.1" font-size="22.9" text-anchor="end">YUCOT</text>
<rect x="1369.0" y="2611.3" width="32.6" height="21.9" fill="#1343fc" />
<rect x="1401.6" y="2611.3" width="32.8" height="21.7" fill="#ffffff" />
<rect x="1434.4" y="2611.3" width="32.8" height="21.7" fill="#ececec" />
<text x="1595.5" y="2628.2" font-size="22.9" text-anchor="end">YUJADE</text>
<rect x="1369.0" y="2632.4" width="32.6" height="21.9" fill="#1244fe" />
<rect x="1401.6" y="2632.4" width="32.8" height="21.7" fill="#ffffff" />
<rect x="1434.4" y="2632.4" width="32.8" height="21.7" fill="#000" />
<text x="1595.5" y="2649.2" font-size="22.9" text-anchor="end">YUSTE</text>
<rect x="1369.0" y="2653.4" width="32.6" height="21.9" fill="#1045ff" />
<rect x="1401.6" y="2653.4" width="32.8" height="21.7" fill="#9bd49e" />
<rect x="1434.4" y="2653.4" width="32.8" height="21.7" fill="#000" />
<text x="1595.5" y="2670.3" font-size="22.9" text-anchor="end">YUPESO</text>
<rect x="1369.0" y="1558.3" width="32.6" height="1116.2" fill="none" stroke="#444" stroke-width="1.2" />
<rect x="1401.6" y="1558.3" width="65.6" height="1116.2" fill="none" stroke="#444" stroke-width="1.2" />
<line x1="1637.0" y1="1558.3" x2="1637.0" y2="2674.5" stroke="#d9d9d9" stroke-width="0.9" />
<line x1="1671.1" y1="1558.3" x2="1671.1" y2="2674.5" stroke="#d9d9d9" stroke-width="0.9" />
<line x1="1705.2" y1="1558.3" x2="1705.2" y2="2674.5" stroke="#d9d9d9" stroke-width="0.9" />
<line x1="1739.2" y1="1558.3" x2="1739.2" y2="2674.5" stroke="#d9d9d9" stroke-width="0.9" />
<line x1="1773.2" y1="1558.3" x2="1773.2" y2="2674.5" stroke="#d9d9d9" stroke-width="0.9" />
<line x1="1807.3" y1="1558.3" x2="1807.3" y2="2674.5" stroke="#d9d9d9" stroke-width="0.9" />
<line x1="1841.3" y1="1558.3" x2="1841.3" y2="2674.5" stroke="#d9d9d9" stroke-width="0.9" />
<line x1="1875.4" y1="1558.3" x2="1875.4" y2="2674.5" stroke="#d9d9d9" stroke-width="0.9" />
<line x1="1909.5" y1="1558.3" x2="1909.5" y2="2674.5" stroke="#d9d9d9" stroke-width="0.9" />
<line x1="1943.5" y1="1558.3" x2="1943.5" y2="2674.5" stroke="#d9d9d9" stroke-width="0.9" />
<line x1="1977.5" y1="1558.3" x2="1977.5" y2="2674.5" stroke="#d9d9d9" stroke-width="0.9" />
<line x1="1603.0" y1="1579.4" x2="2011.6" y2="1579.4" stroke="#d9d9d9" stroke-width="0.9" />
<line x1="1603.0" y1="1600.4" x2="2011.6" y2="1600.4" stroke="#d9d9d9" stroke-width="0.9" />
<line x1="1603.0" y1="1621.5" x2="2011.6" y2="1621.5" stroke="#d9d9d9" stroke-width="0.9" />
<line x1="1603.0" y1="1642.5" x2="2011.6" y2="1642.5" stroke="#d9d9d9" stroke-width="0.9" />
<line x1="1603.0" y1="1663.6" x2="2011.6" y2="1663.6" stroke="#d9d9d9" stroke-width="0.9" />
<line x1="1603.0" y1="1684.7" x2="2011.6" y2="1684.7" stroke="#d9d9d9" stroke-width="0.9" />
<line x1="1603.0" y1="1705.7" x2="2011.6" y2="1705.7" stroke="#d9d9d9" stroke-width="0.9" />
<line x1="1603.0" y1="1726.8" x2="2011.6" y2="1726.8" stroke="#d9d9d9" stroke-width="0.9" />
<line x1="1603.0" y1="1747.8" x2="2011.6" y2="1747.8" stroke="#d9d9d9" stroke-width="0.9" />
<line x1="1603.0" y1="1768.9" x2="2011.6" y2="1768.9" stroke="#d9d9d9" stroke-width="0.9" />
<line x1="1603.0" y1="1790.0" x2="2011.6" y2="1790.0" stroke="#d9d9d9" stroke-width="0.9" />
<line x1="1603.0" y1="1811.0" x2="2011.6" y2="1811.0" stroke="#d9d9d9" stroke-width="0.9" />
<line x1="1603.0" y1="1832.1" x2="2011.6" y2="1832.1" stroke="#d9d9d9" stroke-width="0.9" />
<line x1="1603.0" y1="1853.1" x2="2011.6" y2="1853.1" stroke="#d9d9d9" stroke-width="0.9" />
<line x1="1603.0" y1="1874.2" x2="2011.6" y2="1874.2" stroke="#d9d9d9" stroke-width="0.9" />
<line x1="1603.0" y1="1895.3" x2="2011.6" y2="1895.3" stroke="#d9d9d9" stroke-width="0.9" />
<line x1="1603.0" y1="1916.3" x2="2011.6" y2="1916.3" stroke="#d9d9d9" stroke-width="0.9" />
<line x1="1603.0" y1="1937.4" x2="2011.6" y2="1937.4" stroke="#d9d9d9" stroke-width="0.9" />
<line x1="1603.0" y1="1958.4" x2="2011.6" y2="1958.4" stroke="#d9d9d9" stroke-width="0.9" />
<line x1="1603.0" y1="1979.5" x2="2011.6" y2="1979.5" stroke="#d9d9d9" stroke-width="0.9" />
<line x1="1603.0" y1="2000.6" x2="2011.6" y2="2000.6" stroke="#d9d9d9" stroke-width="0.9" />
<line x1="1603.0" y1="2021.6" x2="2011.6" y2="2021.6" stroke="#d9d9d9" stroke-width="0.9" />
<line x1="1603.0" y1="2042.7" x2="2011.6" y2="2042.7" stroke="#d9d9d9" stroke-width="0.9" />
<line x1="1603.0" y1="2063.7" x2="2011.6" y2="2063.7" stroke="#d9d9d9" stroke-width="0.9" />
<line x1="1603.0" y1="2084.8" x2="2011.6" y2="2084.8" stroke="#d9d9d9" stroke-width="0.9" />
<line x1="1603.0" y1="2105.9" x2="2011.6" y2="2105.9" stroke="#d9d9d9" stroke-width="0.9" />
<line x1="1603.0" y1="2126.9" x2="2011.6" y2="2126.9" stroke="#d9d9d9" stroke-width="0.9" />
<line x1="1603.0" y1="2148.0" x2="2011.6" y2="2148.0" stroke="#d9d9d9" stroke-width="0.9" />
<line x1="1603.0" y1="2169.0" x2="2011.6" y2="2169.0" stroke="#d9d9d9" stroke-width="0.9" />
<line x1="1603.0" y1="2190.1" x2="2011.6" y2="2190.1" stroke="#d9d9d9" stroke-width="0.9" />
<line x1="1603.0" y1="2211.2" x2="2011.6" y2="2211.2" stroke="#d9d9d9" stroke-width="0.9" />
<line x1="1603.0" y1="2232.2" x2="2011.6" y2="2232.2" stroke="#d9d9d9" stroke-width="0.9" />
<line x1="1603.0" y1="2253.3" x2="2011.6" y2="2253.3" stroke="#d9d9d9" stroke-width="0.9" />
<line x1="1603.0" y1="2274.3" x2="2011.6" y2="2274.3" stroke="#d9d9d9" stroke-width="0.9" />
<line x1="1603.0" y1="2295.4" x2="2011.6" y2="2295.4" stroke="#d9d9d9" stroke-width="0.9" />
<line x1="1603.0" y1="2316.5" x2="2011.6" y2="2316.5" stroke="#d9d9d9" stroke-width="0.9" />
<line x1="1603.0" y1="2337.5" x2="2011.6" y2="2337.5" stroke="#d9d9d9" stroke-width="0.9" />
<line x1="1603.0" y1="2358.6" x2="2011.6" y2="2358.6" stroke="#d9d9d9" stroke-width="0.9" />
<line x1="1603.0" y1="2379.6" x2="2011.6" y2="2379.6" stroke="#d9d9d9" stroke-width="0.9" />
<line x1="1603.0" y1="2400.7" x2="2011.6" y2="2400.7" stroke="#d9d9d9" stroke-width="0.9" />
<line x1="1603.0" y1="2421.8" x2="2011.6" y2="2421.8" stroke="#d9d9d9" stroke-width="0.9" />
<line x1="1603.0" y1="2442.8" x2="2011.6" y2="2442.8" stroke="#d9d9d9" stroke-width="0.9" />
<line x1="1603.0" y1="2463.9" x2="2011.6" y2="2463.9" stroke="#d9d9d9" stroke-width="0.9" />
<line x1="1603.0" y1="2484.9" x2="2011.6" y2="2484.9" stroke="#d9d9d9" stroke-width="0.9" />
<line x1="1603.0" y1="2506.0" x2="2011.6" y2="2506.0" stroke="#d9d9d9" stroke-width="0.9" />
<line x1="1603.0" y1="2527.1" x2="2011.6" y2="2527.1" stroke="#d9d9d9" stroke-width="0.9" />
<line x1="1603.0" y1="2548.1" x2="2011.6" y2="2548.1" stroke="#d9d9d9" stroke-width="0.9" />
<line x1="1603.0" y1="2569.2" x2="2011.6" y2="2569.2" stroke="#d9d9d9" stroke-width="0.9" />
<line x1="1603.0" y1="2590.2" x2="2011.6" y2="2590.2" stroke="#d9d9d9" stroke-width="0.9" />
<line x1="1603.0" y1="2611.3" x2="2011.6" y2="2611.3" stroke="#d9d9d9" stroke-width="0.9" />
<line x1="1603.0" y1="2632.4" x2="2011.6" y2="2632.4" stroke="#d9d9d9" stroke-width="0.9" />
<line x1="1603.0" y1="2653.4" x2="2011.6" y2="2653.4" stroke="#d9d9d9" stroke-width="0.9" />
<rect x="1671.1" y="1558.3" width="34.0" height="21.1" fill="#ff2a08" />
<rect x="1705.2" y="1558.3" width="34.0" height="21.1" fill="#5087c5" />
<rect x="1807.3" y="1558.3" width="34.0" height="21.1" fill="#5087c5" />
<rect x="1739.2" y="1579.4" width="34.0" height="21.1" fill="#ff2a08" />
<rect x="1841.3" y="1579.4" width="34.0" height="21.1" fill="#d62b28" />
<rect x="1603.0" y="1621.5" width="34.0" height="21.1" fill="#6ec4d0" />
<rect x="1637.0" y="1621.5" width="34.0" height="21.1" fill="#6ec4d0" />
<rect x="1705.2" y="1621.5" width="34.0" height="21.1" fill="#d62b28" />
<rect x="1943.5" y="1621.5" width="34.0" height="21.1" fill="#d62b28" />
<rect x="1637.0" y="1642.5" width="34.0" height="21.1" fill="#6ec4d0" />
<rect x="1705.2" y="1642.5" width="34.0" height="21.1" fill="#5087c5" />
<rect x="1603.0" y="1663.6" width="34.0" height="21.1" fill="#6ec4d0" />
<rect x="1671.1" y="1663.6" width="34.0" height="21.1" fill="#d62b28" />
<rect x="1671.1" y="1684.7" width="34.0" height="21.1" fill="#d62b28" />
<rect x="1773.2" y="1705.7" width="34.0" height="21.1" fill="#5087c5" />
<rect x="1807.3" y="1705.7" width="34.0" height="21.1" fill="#5087c5" />
<rect x="1603.0" y="1726.8" width="34.0" height="21.1" fill="#d62b28" />
<rect x="1637.0" y="1726.8" width="34.0" height="21.1" fill="#6ec4d0" />
<rect x="1603.0" y="1768.9" width="34.0" height="21.1" fill="#6ec4d0" />
<rect x="1637.0" y="1768.9" width="34.0" height="21.1" fill="#5087c5" />
<rect x="1773.2" y="1768.9" width="34.0" height="21.1" fill="#5087c5" />
<rect x="1603.0" y="1790.0" width="34.0" height="21.1" fill="#d62b28" />
<rect x="1637.0" y="1790.0" width="34.0" height="21.1" fill="#6ec4d0" />
<rect x="1773.2" y="1790.0" width="34.0" height="21.1" fill="#5087c5" />
<rect x="1603.0" y="1811.0" width="34.0" height="21.1" fill="#6ec4d0" />
<rect x="1875.4" y="1811.0" width="34.0" height="21.1" fill="#ff2a08" />
<rect x="1603.0" y="1832.1" width="34.0" height="21.1" fill="#d62b28" />
<rect x="1637.0" y="1832.1" width="34.0" height="21.1" fill="#6ec4d0" />
<rect x="1671.1" y="1832.1" width="34.0" height="21.1" fill="#6ec4d0" />
<rect x="1909.5" y="1853.1" width="34.0" height="21.1" fill="#d62b28" />
<rect x="1637.0" y="1874.2" width="34.0" height="21.1" fill="#6ec4d0" />
<rect x="1705.2" y="1895.3" width="34.0" height="21.1" fill="#5087c5" />
<rect x="1739.2" y="1916.3" width="34.0" height="21.1" fill="#d62b28" />
<rect x="1603.0" y="1958.4" width="34.0" height="21.1" fill="#d62b28" />
<rect x="1637.0" y="1958.4" width="34.0" height="21.1" fill="#6ec4d0" />
<rect x="1705.2" y="1958.4" width="34.0" height="21.1" fill="#5087c5" />
<rect x="1637.0" y="1979.5" width="34.0" height="21.1" fill="#6ec4d0" />
<rect x="1841.3" y="1979.5" width="34.0" height="21.1" fill="#6ec4d0" />
<rect x="1875.4" y="1979.5" width="34.0" height="21.1" fill="#d62b28" />
<rect x="1637.0" y="2000.6" width="34.0" height="21.1" fill="#6ec4d0" />
<rect x="1671.1" y="2000.6" width="34.0" height="21.1" fill="#5087c5" />
<rect x="1977.5" y="2000.6" width="34.0" height="21.1" fill="#5087c5" />
<rect x="1705.2" y="2021.6" width="34.0" height="21.1" fill="#5087c5" />
<rect x="1773.2" y="2021.6" width="34.0" height="21.1" fill="#d62b28" />
<rect x="1807.3" y="2021.6" width="34.0" height="21.1" fill="#d62b28" />
<rect x="1671.1" y="2042.7" width="34.0" height="21.1" fill="#d62b28" />
<rect x="1637.0" y="2063.7" width="34.0" height="21.1" fill="#5087c5" />
<rect x="1773.2" y="2105.9" width="34.0" height="21.1" fill="#5087c5" />
<rect x="1637.0" y="2126.9" width="34.0" height="21.1" fill="#6ec4d0" />
<rect x="1671.1" y="2148.0" width="34.0" height="21.1" fill="#5087c5" />
<rect x="1637.0" y="2211.2" width="34.0" height="21.1" fill="#6ec4d0" />
<rect x="1739.2" y="2211.2" width="34.0" height="21.1" fill="#6ec4d0" />
<rect x="1603.0" y="2232.2" width="34.0" height="21.1" fill="#d62b28" />
<rect x="1603.0" y="2253.3" width="34.0" height="21.1" fill="#5087c5" />
<rect x="1705.2" y="2274.3" width="34.0" height="21.1" fill="#5087c5" />
<rect x="1739.2" y="2274.3" width="34.0" height="21.1" fill="#5087c5" />
<rect x="1603.0" y="2337.5" width="34.0" height="21.1" fill="#6ec4d0" />
<rect x="1637.0" y="2358.6" width="34.0" height="21.1" fill="#5087c5" />
<rect x="1637.0" y="2379.6" width="34.0" height="21.1" fill="#5087c5" />
<rect x="1739.2" y="2379.6" width="34.0" height="21.1" fill="#6ec4d0" />
<rect x="1637.0" y="2442.8" width="34.0" height="21.1" fill="#5087c5" />
<rect x="1671.1" y="2442.8" width="34.0" height="21.1" fill="#d62b28" />
<rect x="1739.2" y="2506.0" width="34.0" height="21.1" fill="#5087c5" />
<rect x="1637.0" y="2548.1" width="34.0" height="21.1" fill="#6ec4d0" />
<rect x="1637.0" y="2569.2" width="34.0" height="21.1" fill="#6ec4d0" />
<rect x="1603.0" y="2653.4" width="34.0" height="21.1" fill="#5087c5" />
<rect x="1637.0" y="2653.4" width="34.0" height="21.1" fill="#6ec4d0" />
<rect x="1603.0" y="1558.3" width="408.6" height="1116.2" fill="none" stroke="#000" stroke-width="1.8" />
<text x="1624.5" y="1551.0" font-size="25.1" transform="rotate(-45 1624.5 1551.0)">Gastrointestinal</text>
<text x="1658.5" y="1551.0" font-size="25.1" transform="rotate(-45 1658.5 1551.0)">Skin</text>
<text x="1692.6" y="1551.0" font-size="25.1" transform="rotate(-45 1692.6 1551.0)">Liver</text>
<text x="1726.7" y="1551.0" font-size="25.1" transform="rotate(-45 1726.7 1551.0)">Thyroid</text>
<text x="1760.7" y="1551.0" font-size="25.1" transform="rotate(-45 1760.7 1551.0)">Musculoskeletal</text>
<text x="1794.8" y="1551.0" font-size="25.1" transform="rotate(-45 1794.8 1551.0)">Pituitary</text>
<text x="1828.8" y="1551.0" font-size="25.1" transform="rotate(-45 1828.8 1551.0)">Adrenal</text>
<text x="1862.8" y="1551.0" font-size="25.1" transform="rotate(-45 1862.8 1551.0)">Cardiac</text>
<text x="1896.9" y="1551.0" font-size="25.1" transform="rotate(-45 1896.9 1551.0)">Pancreatic</text>
<text x="1931.0" y="1551.0" font-size="25.1" transform="rotate(-45 1931.0 1551.0)">Neurologic</text>
<text x="1965.0" y="1551.0" font-size="25.1" transform="rotate(-45 1965.0 1551.0)">Ocular</text>
<text x="1999.0" y="1551.0" font-size="25.1" transform="rotate(-45 1999.0 1551.0)">Systemic</text>
<text x="1385.0" y="1551.0" font-size="25.1" transform="rotate(-45 1385.0 1551.0)">Composite model score</text>
<text x="1419.0" y="1551.0" font-size="25.1" transform="rotate(-45 1419.0 1551.0)">No. organ systems</text>
<text x="1453.0" y="1551.0" font-size="25.1" transform="rotate(-45 1453.0 1551.0)">Cohort</text>
<line x1="1601.7" y1="2042.7" x2="2074.3" y2="2042.7" stroke="#000" stroke-width="2.2" stroke-dasharray="9 4.5"/>
<text x="2059.0" y="1762.0" font-size="27" text-anchor="middle">High</text>
<text x="2056.0" y="1794.8" font-size="27" text-anchor="middle">model</text>
<text x="2059.0" y="1827.5" font-size="27" text-anchor="middle">score</text>
<line x1="2056.0" y1="2023.7" x2="2056.0" y2="1859.6" stroke="#000" stroke-width="1.8" />
<path d="M2050.0 1866.0 L2056.0 1850.0 L2062.0 1866.0 L2056.0 1862.0 Z" fill="#000"/>
<line x1="2056.0" y1="2063.0" x2="2056.0" y2="2295.4" stroke="#000" stroke-width="1.8" />
<path d="M2050.0 2289.0 L2056.0 2305.0 L2062.0 2289.0 L2056.0 2293.0 Z" fill="#000"/>
<text x="2056.0" y="2349.8" font-size="27" text-anchor="middle">Low</text>
<text x="2053.0" y="2382.0" font-size="27" text-anchor="middle">model</text>
<text x="2056.0" y="2413.8" font-size="27" text-anchor="middle">score</text>
<text x="373.0" y="2097.0" font-size="54" fill="#231f20" font-weight="bold">j</text>
<text x="634.7" y="2097.8" font-size="30.5" text-anchor="middle" textLength="251.0" lengthAdjust="spacingAndGlyphs">Fisher’s exact test</text>
<text x="641.7" y="2135.6" font-size="30.5" text-anchor="middle" textLength="313.6" lengthAdjust="spacingAndGlyphs">(two-sided) <tspan font-style="italic">P</tspan> = 0.0005</text>
<rect x="534.8" y="2155.7" width="87.1" height="356.0" fill="#ebebeb" />
<rect x="534.8" y="2453.3" width="87.1" height="58.4" fill="#5bb45e" />
<rect x="683.4" y="2155.7" width="87.1" height="356.0" fill="#ebebeb" />
<rect x="683.4" y="2280.3" width="87.1" height="231.4" fill="#5bb45e" />
<line x1="490.4" y1="2154.8" x2="490.4" y2="2512.4" stroke="#000" stroke-width="1.6" />
<line x1="489.7" y1="2511.7" x2="802.8" y2="2511.7" stroke="#000" stroke-width="1.6" />
<line x1="484.9" y1="2511.7" x2="490.4" y2="2511.7" stroke="#000" stroke-width="1.5" />
<text x="484.4" y="2520.7" font-size="25.8" text-anchor="end">0.00</text>
<line x1="487.4" y1="2467.2" x2="490.4" y2="2467.2" stroke="#000" stroke-width="1.2" />
<line x1="484.9" y1="2422.7" x2="490.4" y2="2422.7" stroke="#000" stroke-width="1.5" />
<text x="484.4" y="2431.7" font-size="25.8" text-anchor="end">0.25</text>
<line x1="487.4" y1="2378.2" x2="490.4" y2="2378.2" stroke="#000" stroke-width="1.2" />
<line x1="484.9" y1="2333.7" x2="490.4" y2="2333.7" stroke="#000" stroke-width="1.5" />
<text x="484.4" y="2342.7" font-size="25.8" text-anchor="end">0.50</text>
<line x1="487.4" y1="2289.2" x2="490.4" y2="2289.2" stroke="#000" stroke-width="1.2" />
<line x1="484.9" y1="2244.7" x2="490.4" y2="2244.7" stroke="#000" stroke-width="1.5" />
<text x="484.4" y="2253.7" font-size="25.8" text-anchor="end">0.75</text>
<line x1="487.4" y1="2200.2" x2="490.4" y2="2200.2" stroke="#000" stroke-width="1.2" />
<line x1="484.9" y1="2155.7" x2="490.4" y2="2155.7" stroke="#000" stroke-width="1.5" />
<text x="484.4" y="2164.7" font-size="25.8" text-anchor="end">1.00</text>
<line x1="578.4" y1="2511.7" x2="578.4" y2="2516.7" stroke="#000" stroke-width="1.5" />
<line x1="727.0" y1="2511.7" x2="727.0" y2="2516.7" stroke="#000" stroke-width="1.5" />
<text x="416.0" y="2332.3" font-size="28.2" text-anchor="middle" transform="rotate(-90 416.0 2332.3)">Fraction of patients</text>
<text x="569.3" y="2541.2" font-size="24.7" text-anchor="middle">Low composite</text>
<text x="572.0" y="2567.4" font-size="24.7" text-anchor="middle">model score</text>
<text x="742.5" y="2541.2" font-size="24.7" text-anchor="middle">High composite</text>
<text x="745.5" y="2567.4" font-size="24.7" text-anchor="middle">model score</text>
<rect x="380.2" y="2603.2" width="22.5" height="21.3" fill="#ebebeb" stroke="#666" stroke-width="1" />
<text x="421.0" y="2606.5" font-size="25.2">Patients with</text>
<text x="421.0" y="2638.0" font-size="25.2">≤ 1 organ system</text>
<text x="421.0" y="2668.5" font-size="25.2">toxicity</text>
<rect x="636.5" y="2603.2" width="23.2" height="21.3" fill="#5bb45e" stroke="#3d8a40" stroke-width="1" />
<text x="673.7" y="2606.5" font-size="25.2">Patients with</text>
<text x="673.7" y="2638.0" font-size="25.2">≥ 2 organ system</text>
<text x="673.7" y="2668.5" font-size="25.2">toxicity</text>
<text x="1228.0" y="2213.5" font-size="26.8" text-anchor="middle">Composite model</text>
<text x="1228.0" y="2245.2" font-size="26.8" text-anchor="middle">score</text>
<defs><linearGradient id="gsc" x1="0" x2="1" y1="0" y2="0"><stop offset="0" stop-color="#0b3cff"/><stop offset="0.45" stop-color="#6a2cc0"/><stop offset="0.75" stop-color="#d02850"/><stop offset="1" stop-color="#ff2a12"/></linearGradient></defs>
<rect x="1121.2" y="2263.5" width="215.6" height="14.0" fill="url(#gsc)" />
<text x="1119.4" y="2300.0" font-size="24.5">Low</text>
<text x="1343.5" y="2300.0" font-size="24.5" text-anchor="end">High</text>
<text x="1228.0" y="2355.4" font-size="26.8" text-anchor="middle">No. of organ systems</text>
<text x="1228.0" y="2390.1" font-size="26.8" text-anchor="middle">with irAE</text>
<rect x="1121.2" y="2405.3" width="43.2" height="14.0" fill="#ffffff" />
<rect x="1164.1" y="2405.3" width="43.2" height="14.0" fill="#c9e7c6" />
<rect x="1207.0" y="2405.3" width="43.2" height="14.0" fill="#9bd49e" />
<rect x="1249.8" y="2405.3" width="43.2" height="14.0" fill="#69bc6d" />
<rect x="1292.7" y="2405.3" width="43.2" height="14.0" fill="#009300" />
<rect x="1121.2" y="2405.3" width="214.4" height="14.0" fill="none" stroke="#999" stroke-width="1" />
<rect x="1121.2" y="2627.0" width="43.2" height="14.0" fill="#ffffff" />
<rect x="1164.1" y="2627.0" width="43.2" height="14.0" fill="#6ec4d0" />
<rect x="1207.0" y="2627.0" width="43.2" height="14.0" fill="#5087c5" />
<rect x="1249.8" y="2627.0" width="43.2" height="14.0" fill="#d62b28" />
<rect x="1292.7" y="2627.0" width="43.2" height="14.0" fill="#ff2a08" />
<rect x="1121.2" y="2627.0" width="214.4" height="14.0" fill="none" stroke="#999" stroke-width="1" />
<text x="1142.5" y="2441.9" font-size="24" text-anchor="middle">0</text>
<text x="1142.5" y="2662.9" font-size="24" text-anchor="middle">0</text>
<text x="1184.0" y="2441.9" font-size="24" text-anchor="middle">1</text>
<text x="1184.0" y="2662.9" font-size="24" text-anchor="middle">1</text>
<text x="1227.8" y="2441.9" font-size="24" text-anchor="middle">2</text>
<text x="1227.8" y="2662.9" font-size="24" text-anchor="middle">2</text>
<text x="1269.8" y="2441.9" font-size="24" text-anchor="middle">3</text>
<text x="1269.8" y="2662.9" font-size="24" text-anchor="middle">3</text>
<text x="1313.0" y="2441.9" font-size="24" text-anchor="middle">4</text>
<text x="1313.0" y="2662.9" font-size="24" text-anchor="middle">4</text>
<text x="1228.0" y="2495.5" font-size="26.8" text-anchor="middle">Cohort</text>
<rect x="1136.4" y="2511.9" width="30.5" height="11.0" fill="#ebebeb" stroke="#555" stroke-width="1" />
<text x="1174.2" y="2525.3" font-size="24.9">Bulk cohort 1</text>
<rect x="1136.4" y="2541.1" width="30.5" height="11.0" fill="#000" />
<text x="1174.2" y="2555.1" font-size="24.9">Bulk cohort 2</text>
<text x="1228.0" y="2611.2" font-size="26.8" text-anchor="middle">irAE grade</text>
</svg>
</body></html>
